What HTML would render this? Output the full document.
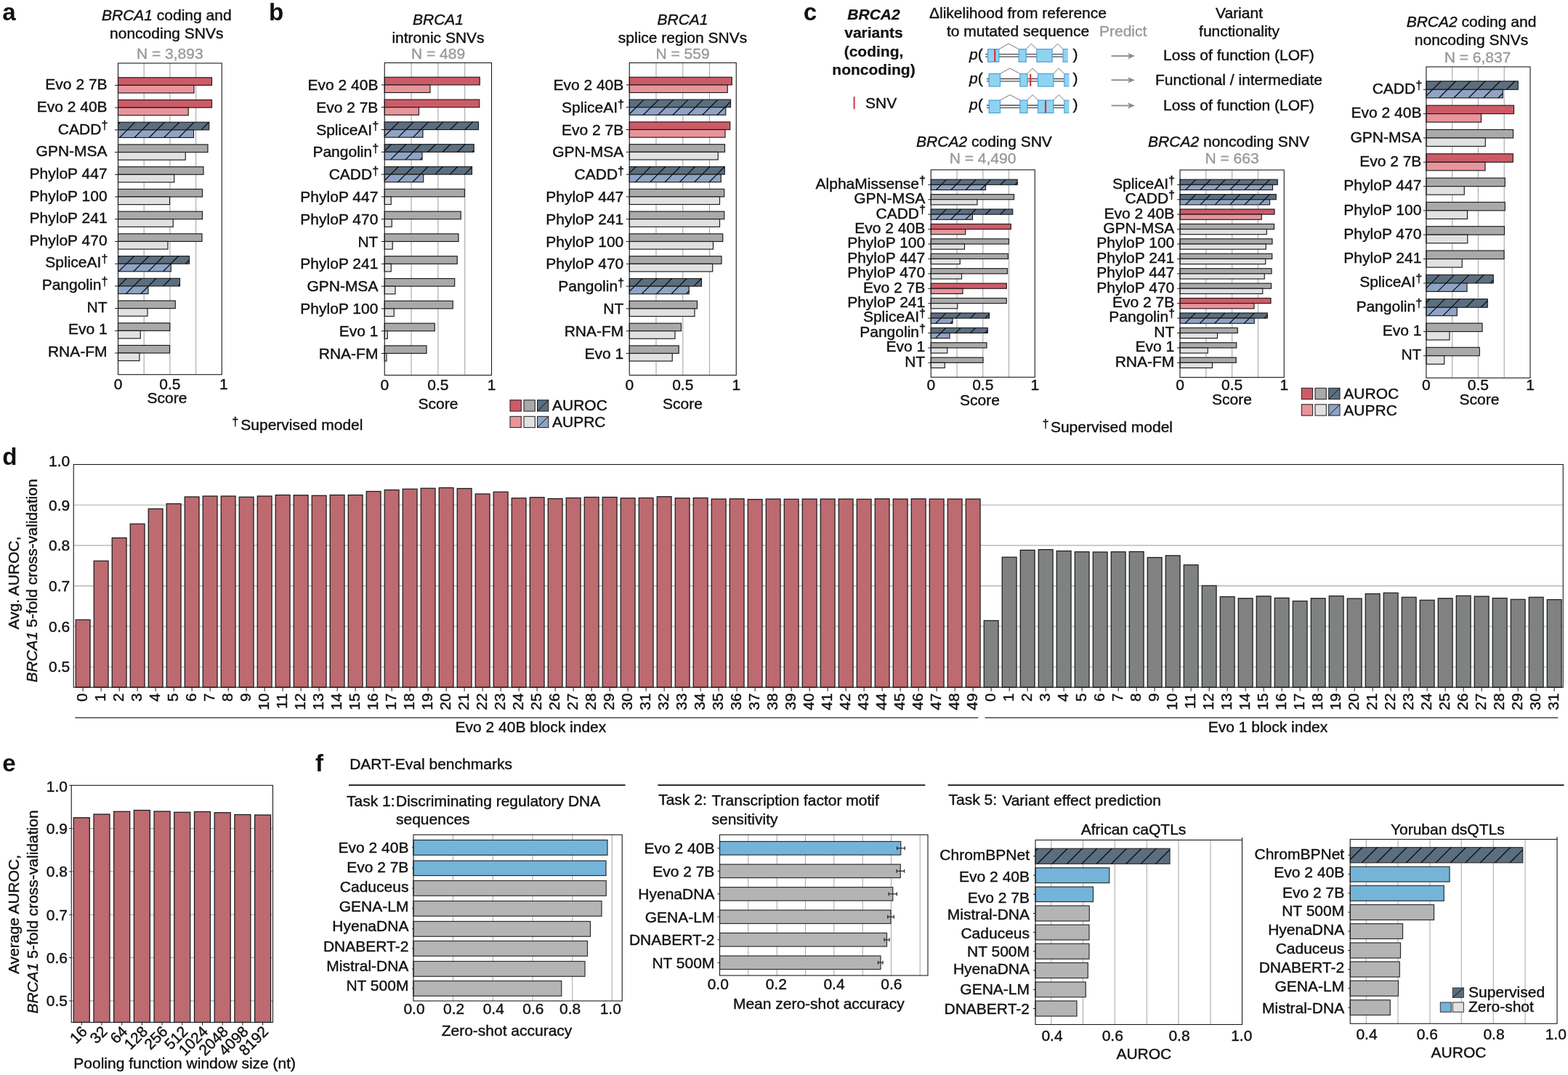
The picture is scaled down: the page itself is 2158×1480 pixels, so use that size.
<!DOCTYPE html>
<html lang="en"><head><meta charset="utf-8"><title>Figure</title>
<style>html,body{margin:0;padding:0;background:#fff}body{width:2158px;height:1480px;overflow:hidden}svg{display:block;font-family:"Liberation Sans",Arial,Helvetica,sans-serif;font-size:21px;fill:#111111}</style>
</head><body>
<svg width="2158" height="1480" viewBox="0 0 2158 1480">
<rect width="2158" height="1480" fill="#ffffff"/>
<g id="panel-a">
<text x="3.3" y="28.3" font-size="33.2" stroke="#111111" stroke-width="0" font-weight="bold">a</text>
<text x="229.3" y="27.5" text-anchor="middle" stroke="#111111" stroke-width="0.4"><tspan font-style="italic">BRCA1</tspan> coding and</text>
<text x="229.3" y="52.5" text-anchor="middle" stroke="#111111" stroke-width="0.4">noncoding SNVs</text>
<text x="233.8" y="81.3" text-anchor="middle" fill="#9a9a9a" stroke="#9a9a9a" stroke-width="0.4">N = 3,893</text>
<line x1="198.2" y1="87" x2="198.2" y2="515.7" stroke="#adadad" stroke-width="1.2"/>
<line x1="233.9" y1="87" x2="233.9" y2="515.7" stroke="#adadad" stroke-width="1.2"/>
<line x1="269.6" y1="87" x2="269.6" y2="515.7" stroke="#adadad" stroke-width="1.2"/>
<rect x="162.5" y="106.8" width="129" height="10.6" fill="#cd5b67" stroke="#1a1a1a" stroke-width="1.15"/>
<rect x="162.5" y="117.4" width="104.5" height="10.6" fill="#e8949b" stroke="#1a1a1a" stroke-width="1.15"/>
<line x1="158" y1="117.4" x2="162.5" y2="117.4" stroke="#1a1a1a" stroke-width="1"/>
<text x="147.6" y="123.3" text-anchor="end" stroke="#111111" stroke-width="0.4">Evo 2 7B</text>
<rect x="162.5" y="137.52" width="129" height="10.6" fill="#cd5b67" stroke="#1a1a1a" stroke-width="1.15"/>
<rect x="162.5" y="148.12" width="96.75" height="10.6" fill="#e8949b" stroke="#1a1a1a" stroke-width="1.15"/>
<line x1="158" y1="148.12" x2="162.5" y2="148.12" stroke="#1a1a1a" stroke-width="1"/>
<text x="147.6" y="153.94" text-anchor="end" stroke="#111111" stroke-width="0.4">Evo 2 40B</text>
<rect x="162.5" y="168.24" width="125.25" height="10.6" fill="#5b6e80" stroke="#1a1a1a" stroke-width="1.15"/>
<rect x="162.5" y="178.84" width="104" height="10.6" fill="#8fa3c4" stroke="#1a1a1a" stroke-width="1.15"/>
<path d="M162.5 171.15L165.41 168.24M175.16 178.84L185.76 168.24M195.51 178.84L206.11 168.24M215.86 178.84L226.46 168.24M236.21 178.84L246.81 168.24M256.56 178.84L267.16 168.24M276.91 178.84L287.51 168.24" stroke="#0c0c0c" stroke-width="1.25" fill="none"/>
<path d="M164.56 189.44L175.16 178.84M184.91 189.44L195.51 178.84M205.26 189.44L215.86 178.84M225.61 189.44L236.21 178.84M245.96 189.44L256.56 178.84" stroke="#0c0c0c" stroke-width="1.25" fill="none"/>
<line x1="158" y1="178.84" x2="162.5" y2="178.84" stroke="#1a1a1a" stroke-width="1"/>
<text x="148.4" y="184.58" text-anchor="end" stroke="#111111" stroke-width="0.4">CADD<tspan dy="-6.2" font-size="16.2">†</tspan></text>
<rect x="162.5" y="198.96" width="123.5" height="10.6" fill="#a9a9a9" stroke="#1a1a1a" stroke-width="1.15"/>
<rect x="162.5" y="209.56" width="92.75" height="10.6" fill="#e1e1e1" stroke="#1a1a1a" stroke-width="1.15"/>
<line x1="158" y1="209.56" x2="162.5" y2="209.56" stroke="#1a1a1a" stroke-width="1"/>
<text x="147.6" y="215.22" text-anchor="end" stroke="#111111" stroke-width="0.4">GPN-MSA</text>
<rect x="162.5" y="229.68" width="117.5" height="10.6" fill="#a9a9a9" stroke="#1a1a1a" stroke-width="1.15"/>
<rect x="162.5" y="240.28" width="77.25" height="10.6" fill="#e1e1e1" stroke="#1a1a1a" stroke-width="1.15"/>
<line x1="158" y1="240.28" x2="162.5" y2="240.28" stroke="#1a1a1a" stroke-width="1"/>
<text x="147.6" y="245.86" text-anchor="end" stroke="#111111" stroke-width="0.4">PhyloP 447</text>
<rect x="162.5" y="260.4" width="116" height="10.6" fill="#a9a9a9" stroke="#1a1a1a" stroke-width="1.15"/>
<rect x="162.5" y="271" width="71" height="10.6" fill="#e1e1e1" stroke="#1a1a1a" stroke-width="1.15"/>
<line x1="158" y1="271" x2="162.5" y2="271" stroke="#1a1a1a" stroke-width="1"/>
<text x="147.6" y="276.5" text-anchor="end" stroke="#111111" stroke-width="0.4">PhyloP 100</text>
<rect x="162.5" y="291.12" width="116" height="10.6" fill="#a9a9a9" stroke="#1a1a1a" stroke-width="1.15"/>
<rect x="162.5" y="301.72" width="75.75" height="10.6" fill="#e1e1e1" stroke="#1a1a1a" stroke-width="1.15"/>
<line x1="158" y1="301.72" x2="162.5" y2="301.72" stroke="#1a1a1a" stroke-width="1"/>
<text x="147.6" y="307.14" text-anchor="end" stroke="#111111" stroke-width="0.4">PhyloP 241</text>
<rect x="162.5" y="321.84" width="115.5" height="10.6" fill="#a9a9a9" stroke="#1a1a1a" stroke-width="1.15"/>
<rect x="162.5" y="332.44" width="68.5" height="10.6" fill="#e1e1e1" stroke="#1a1a1a" stroke-width="1.15"/>
<line x1="158" y1="332.44" x2="162.5" y2="332.44" stroke="#1a1a1a" stroke-width="1"/>
<text x="147.6" y="337.78" text-anchor="end" stroke="#111111" stroke-width="0.4">PhyloP 470</text>
<rect x="162.5" y="352.56" width="98" height="10.6" fill="#5b6e80" stroke="#1a1a1a" stroke-width="1.15"/>
<rect x="162.5" y="363.16" width="72.75" height="10.6" fill="#8fa3c4" stroke="#1a1a1a" stroke-width="1.15"/>
<path d="M162.5 354.3L164.24 352.56M173.99 363.16L184.59 352.56M194.34 363.16L204.94 352.56M214.69 363.16L225.29 352.56M235.04 363.16L245.64 352.56M255.39 363.16L260.5 358.05" stroke="#0c0c0c" stroke-width="1.25" fill="none"/>
<path d="M163.39 373.76L173.99 363.16M183.74 373.76L194.34 363.16M204.09 373.76L214.69 363.16M224.44 373.76L235.04 363.16" stroke="#0c0c0c" stroke-width="1.25" fill="none"/>
<line x1="158" y1="363.16" x2="162.5" y2="363.16" stroke="#1a1a1a" stroke-width="1"/>
<text x="148.4" y="368.42" text-anchor="end" stroke="#111111" stroke-width="0.4">SpliceAI<tspan dy="-6.2" font-size="16.2">†</tspan></text>
<rect x="162.5" y="383.28" width="85" height="10.6" fill="#5b6e80" stroke="#1a1a1a" stroke-width="1.15"/>
<rect x="162.5" y="393.88" width="41.5" height="10.6" fill="#8fa3c4" stroke="#1a1a1a" stroke-width="1.15"/>
<path d="M163.62 393.88L174.22 383.28M183.97 393.88L194.57 383.28M204.32 393.88L214.92 383.28M224.67 393.88L235.27 383.28M245.02 393.88L247.5 391.4" stroke="#0c0c0c" stroke-width="1.25" fill="none"/>
<path d="M162.5 395L163.62 393.88M173.37 404.48L183.97 393.88M193.72 404.48L204 394.2" stroke="#0c0c0c" stroke-width="1.25" fill="none"/>
<line x1="158" y1="393.88" x2="162.5" y2="393.88" stroke="#1a1a1a" stroke-width="1"/>
<text x="148.4" y="399.06" text-anchor="end" stroke="#111111" stroke-width="0.4">Pangolin<tspan dy="-6.2" font-size="16.2">†</tspan></text>
<rect x="162.5" y="414" width="78.75" height="10.6" fill="#a9a9a9" stroke="#1a1a1a" stroke-width="1.15"/>
<rect x="162.5" y="424.6" width="40.5" height="10.6" fill="#e1e1e1" stroke="#1a1a1a" stroke-width="1.15"/>
<line x1="158" y1="424.6" x2="162.5" y2="424.6" stroke="#1a1a1a" stroke-width="1"/>
<text x="147.6" y="429.7" text-anchor="end" stroke="#111111" stroke-width="0.4">NT</text>
<rect x="162.5" y="444.72" width="71.25" height="10.6" fill="#a9a9a9" stroke="#1a1a1a" stroke-width="1.15"/>
<rect x="162.5" y="455.32" width="30.75" height="10.6" fill="#e1e1e1" stroke="#1a1a1a" stroke-width="1.15"/>
<line x1="158" y1="455.32" x2="162.5" y2="455.32" stroke="#1a1a1a" stroke-width="1"/>
<text x="147.6" y="460.34" text-anchor="end" stroke="#111111" stroke-width="0.4">Evo 1</text>
<rect x="162.5" y="475.44" width="71" height="10.6" fill="#a9a9a9" stroke="#1a1a1a" stroke-width="1.15"/>
<rect x="162.5" y="486.04" width="29.5" height="10.6" fill="#e1e1e1" stroke="#1a1a1a" stroke-width="1.15"/>
<line x1="158" y1="486.04" x2="162.5" y2="486.04" stroke="#1a1a1a" stroke-width="1"/>
<text x="147.6" y="490.98" text-anchor="end" stroke="#111111" stroke-width="0.4">RNA-FM</text>
<rect x="162.5" y="87" width="142.8" height="428.7" fill="none" stroke="#1a1a1a" stroke-width="1.1"/>
<text x="162.5" y="535.5" text-anchor="middle" stroke="#111111" stroke-width="0.4">0</text>
<text x="233.9" y="535.5" text-anchor="middle" stroke="#111111" stroke-width="0.4">0.5</text>
<text x="307.9" y="535.5" text-anchor="middle" stroke="#111111" stroke-width="0.4">1</text>
<text x="230" y="554.5" text-anchor="middle" stroke="#111111" stroke-width="0.4">Score</text>
<text x="319.3" y="591.7" stroke="#111111" stroke-width="0.4"><tspan dy="-6.2" font-size="16.2">†</tspan><tspan dy="6.2" dx="3">Supervised model</tspan></text>
</g>
<g id="panel-b">
<text x="370" y="28.3" font-size="33.2" stroke="#111111" stroke-width="0" font-weight="bold">b</text>
<text x="603" y="33.8" text-anchor="middle" stroke="#111111" stroke-width="0.4" font-style="italic">BRCA1</text>
<text x="603" y="58.6" text-anchor="middle" stroke="#111111" stroke-width="0.4">intronic SNVs</text>
<text x="603" y="81.3" text-anchor="middle" fill="#9a9a9a" stroke="#9a9a9a" stroke-width="0.4">N = 489</text>
<line x1="566.06" y1="86.5" x2="566.06" y2="516.5" stroke="#adadad" stroke-width="1.2"/>
<line x1="602.88" y1="86.5" x2="602.88" y2="516.5" stroke="#adadad" stroke-width="1.2"/>
<line x1="639.69" y1="86.5" x2="639.69" y2="516.5" stroke="#adadad" stroke-width="1.2"/>
<rect x="529.25" y="106.3" width="131" height="10.6" fill="#cd5b67" stroke="#1a1a1a" stroke-width="1.15"/>
<rect x="529.25" y="116.9" width="62.75" height="10.6" fill="#e8949b" stroke="#1a1a1a" stroke-width="1.15"/>
<line x1="524.75" y1="116.9" x2="529.25" y2="116.9" stroke="#1a1a1a" stroke-width="1"/>
<text x="520.4" y="123.9" text-anchor="end" stroke="#111111" stroke-width="0.4">Evo 2 40B</text>
<rect x="529.25" y="137.1" width="130.5" height="10.6" fill="#cd5b67" stroke="#1a1a1a" stroke-width="1.15"/>
<rect x="529.25" y="147.7" width="47.25" height="10.6" fill="#e8949b" stroke="#1a1a1a" stroke-width="1.15"/>
<line x1="524.75" y1="147.7" x2="529.25" y2="147.7" stroke="#1a1a1a" stroke-width="1"/>
<text x="520.4" y="154.7" text-anchor="end" stroke="#111111" stroke-width="0.4">Evo 2 7B</text>
<rect x="529.25" y="167.9" width="129.25" height="10.6" fill="#5b6e80" stroke="#1a1a1a" stroke-width="1.15"/>
<rect x="529.25" y="178.5" width="52.75" height="10.6" fill="#8fa3c4" stroke="#1a1a1a" stroke-width="1.15"/>
<path d="M538.25 178.5L548.85 167.9M558.6 178.5L569.2 167.9M578.95 178.5L589.55 167.9M599.3 178.5L609.9 167.9M619.65 178.5L630.25 167.9M640 178.5L650.6 167.9" stroke="#0c0c0c" stroke-width="1.25" fill="none"/>
<path d="M529.25 187.5L538.25 178.5M548 189.1L558.6 178.5M568.35 189.1L578.95 178.5" stroke="#0c0c0c" stroke-width="1.25" fill="none"/>
<line x1="524.75" y1="178.5" x2="529.25" y2="178.5" stroke="#1a1a1a" stroke-width="1"/>
<text x="521.2" y="185.5" text-anchor="end" stroke="#111111" stroke-width="0.4">SpliceAI<tspan dy="-6.2" font-size="16.2">†</tspan></text>
<rect x="529.25" y="198.7" width="123" height="10.6" fill="#5b6e80" stroke="#1a1a1a" stroke-width="1.15"/>
<rect x="529.25" y="209.3" width="51.75" height="10.6" fill="#8fa3c4" stroke="#1a1a1a" stroke-width="1.15"/>
<path d="M529.25 207.85L538.4 198.7M548.15 209.3L558.75 198.7M568.5 209.3L579.1 198.7M588.85 209.3L599.45 198.7M609.2 209.3L619.8 198.7M629.55 209.3L640.15 198.7M649.9 209.3L652.25 206.95" stroke="#0c0c0c" stroke-width="1.25" fill="none"/>
<path d="M537.55 219.9L548.15 209.3M557.9 219.9L568.5 209.3M578.25 219.9L581 217.15" stroke="#0c0c0c" stroke-width="1.25" fill="none"/>
<line x1="524.75" y1="209.3" x2="529.25" y2="209.3" stroke="#1a1a1a" stroke-width="1"/>
<text x="521.2" y="216.3" text-anchor="end" stroke="#111111" stroke-width="0.4">Pangolin<tspan dy="-6.2" font-size="16.2">†</tspan></text>
<rect x="529.25" y="229.5" width="120.25" height="10.6" fill="#5b6e80" stroke="#1a1a1a" stroke-width="1.15"/>
<rect x="529.25" y="240.1" width="53.5" height="10.6" fill="#8fa3c4" stroke="#1a1a1a" stroke-width="1.15"/>
<path d="M537.7 240.1L548.3 229.5M558.05 240.1L568.65 229.5M578.4 240.1L589 229.5M598.75 240.1L609.35 229.5M619.1 240.1L629.7 229.5M639.45 240.1L649.5 230.05" stroke="#0c0c0c" stroke-width="1.25" fill="none"/>
<path d="M529.25 248.55L537.7 240.1M547.45 250.7L558.05 240.1M567.8 250.7L578.4 240.1" stroke="#0c0c0c" stroke-width="1.25" fill="none"/>
<line x1="524.75" y1="240.1" x2="529.25" y2="240.1" stroke="#1a1a1a" stroke-width="1"/>
<text x="521.2" y="247.1" text-anchor="end" stroke="#111111" stroke-width="0.4">CADD<tspan dy="-6.2" font-size="16.2">†</tspan></text>
<rect x="529.25" y="260.3" width="110.25" height="10.6" fill="#a9a9a9" stroke="#1a1a1a" stroke-width="1.15"/>
<rect x="529.25" y="270.9" width="9" height="10.6" fill="#e1e1e1" stroke="#1a1a1a" stroke-width="1.15"/>
<line x1="524.75" y1="270.9" x2="529.25" y2="270.9" stroke="#1a1a1a" stroke-width="1"/>
<text x="520.4" y="277.9" text-anchor="end" stroke="#111111" stroke-width="0.4">PhyloP 447</text>
<rect x="529.25" y="291.1" width="105" height="10.6" fill="#a9a9a9" stroke="#1a1a1a" stroke-width="1.15"/>
<rect x="529.25" y="301.7" width="10" height="10.6" fill="#e1e1e1" stroke="#1a1a1a" stroke-width="1.15"/>
<line x1="524.75" y1="301.7" x2="529.25" y2="301.7" stroke="#1a1a1a" stroke-width="1"/>
<text x="520.4" y="308.7" text-anchor="end" stroke="#111111" stroke-width="0.4">PhyloP 470</text>
<rect x="529.25" y="321.9" width="101.75" height="10.6" fill="#a9a9a9" stroke="#1a1a1a" stroke-width="1.15"/>
<rect x="529.25" y="332.5" width="11" height="10.6" fill="#e1e1e1" stroke="#1a1a1a" stroke-width="1.15"/>
<line x1="524.75" y1="332.5" x2="529.25" y2="332.5" stroke="#1a1a1a" stroke-width="1"/>
<text x="520.4" y="339.5" text-anchor="end" stroke="#111111" stroke-width="0.4">NT</text>
<rect x="529.25" y="352.7" width="100" height="10.6" fill="#a9a9a9" stroke="#1a1a1a" stroke-width="1.15"/>
<rect x="529.25" y="363.3" width="9" height="10.6" fill="#e1e1e1" stroke="#1a1a1a" stroke-width="1.15"/>
<line x1="524.75" y1="363.3" x2="529.25" y2="363.3" stroke="#1a1a1a" stroke-width="1"/>
<text x="520.4" y="370.3" text-anchor="end" stroke="#111111" stroke-width="0.4">PhyloP 241</text>
<rect x="529.25" y="383.5" width="96.5" height="10.6" fill="#a9a9a9" stroke="#1a1a1a" stroke-width="1.15"/>
<rect x="529.25" y="394.1" width="14.75" height="10.6" fill="#e1e1e1" stroke="#1a1a1a" stroke-width="1.15"/>
<line x1="524.75" y1="394.1" x2="529.25" y2="394.1" stroke="#1a1a1a" stroke-width="1"/>
<text x="520.4" y="401.1" text-anchor="end" stroke="#111111" stroke-width="0.4">GPN-MSA</text>
<rect x="529.25" y="414.3" width="94" height="10.6" fill="#a9a9a9" stroke="#1a1a1a" stroke-width="1.15"/>
<rect x="529.25" y="424.9" width="13" height="10.6" fill="#e1e1e1" stroke="#1a1a1a" stroke-width="1.15"/>
<line x1="524.75" y1="424.9" x2="529.25" y2="424.9" stroke="#1a1a1a" stroke-width="1"/>
<text x="520.4" y="431.9" text-anchor="end" stroke="#111111" stroke-width="0.4">PhyloP 100</text>
<rect x="529.25" y="445.1" width="69" height="10.6" fill="#a9a9a9" stroke="#1a1a1a" stroke-width="1.15"/>
<rect x="529.25" y="455.7" width="4" height="10.6" fill="#e1e1e1" stroke="#1a1a1a" stroke-width="1.15"/>
<line x1="524.75" y1="455.7" x2="529.25" y2="455.7" stroke="#1a1a1a" stroke-width="1"/>
<text x="520.4" y="462.7" text-anchor="end" stroke="#111111" stroke-width="0.4">Evo 1</text>
<rect x="529.25" y="475.9" width="57.75" height="10.6" fill="#a9a9a9" stroke="#1a1a1a" stroke-width="1.15"/>
<rect x="529.25" y="486.5" width="2.75" height="10.6" fill="#e1e1e1" stroke="#1a1a1a" stroke-width="1.15"/>
<line x1="524.75" y1="486.5" x2="529.25" y2="486.5" stroke="#1a1a1a" stroke-width="1"/>
<text x="520.4" y="493.5" text-anchor="end" stroke="#111111" stroke-width="0.4">RNA-FM</text>
<rect x="529.25" y="86.5" width="147.25" height="430" fill="none" stroke="#1a1a1a" stroke-width="1.1"/>
<text x="529.25" y="537" text-anchor="middle" stroke="#111111" stroke-width="0.4">0</text>
<text x="602.88" y="537" text-anchor="middle" stroke="#111111" stroke-width="0.4">0.5</text>
<text x="676.5" y="537" text-anchor="middle" stroke="#111111" stroke-width="0.4">1</text>
<text x="603" y="562.7" text-anchor="middle" stroke="#111111" stroke-width="0.4">Score</text>
<text x="939.5" y="33.8" text-anchor="middle" stroke="#111111" stroke-width="0.4" font-style="italic">BRCA1</text>
<text x="939.5" y="58.6" text-anchor="middle" stroke="#111111" stroke-width="0.4">splice region SNVs</text>
<text x="939.5" y="81.3" text-anchor="middle" fill="#9a9a9a" stroke="#9a9a9a" stroke-width="0.4">N = 559</text>
<line x1="903" y1="86.5" x2="903" y2="516.5" stroke="#adadad" stroke-width="1.2"/>
<line x1="939.75" y1="86.5" x2="939.75" y2="516.5" stroke="#adadad" stroke-width="1.2"/>
<line x1="976.5" y1="86.5" x2="976.5" y2="516.5" stroke="#adadad" stroke-width="1.2"/>
<rect x="866.25" y="106.3" width="141" height="10.6" fill="#cd5b67" stroke="#1a1a1a" stroke-width="1.15"/>
<rect x="866.25" y="116.9" width="135" height="10.6" fill="#e8949b" stroke="#1a1a1a" stroke-width="1.15"/>
<line x1="861.75" y1="116.9" x2="866.25" y2="116.9" stroke="#1a1a1a" stroke-width="1"/>
<text x="858.3" y="123.9" text-anchor="end" stroke="#111111" stroke-width="0.4">Evo 2 40B</text>
<rect x="866.25" y="137.1" width="139.25" height="10.6" fill="#5b6e80" stroke="#1a1a1a" stroke-width="1.15"/>
<rect x="866.25" y="147.7" width="132.5" height="10.6" fill="#8fa3c4" stroke="#1a1a1a" stroke-width="1.15"/>
<path d="M875.55 147.7L886.15 137.1M895.9 147.7L906.5 137.1M916.25 147.7L926.85 137.1M936.6 147.7L947.2 137.1M956.95 147.7L967.55 137.1M977.3 147.7L987.9 137.1M997.65 147.7L1005.5 139.85" stroke="#0c0c0c" stroke-width="1.25" fill="none"/>
<path d="M866.25 157L875.55 147.7M885.3 158.3L895.9 147.7M905.65 158.3L916.25 147.7M926 158.3L936.6 147.7M946.35 158.3L956.95 147.7M966.7 158.3L977.3 147.7M987.05 158.3L997.65 147.7" stroke="#0c0c0c" stroke-width="1.25" fill="none"/>
<line x1="861.75" y1="147.7" x2="866.25" y2="147.7" stroke="#1a1a1a" stroke-width="1"/>
<text x="859.1" y="154.7" text-anchor="end" stroke="#111111" stroke-width="0.4">SpliceAI<tspan dy="-6.2" font-size="16.2">†</tspan></text>
<rect x="866.25" y="167.9" width="138.5" height="10.6" fill="#cd5b67" stroke="#1a1a1a" stroke-width="1.15"/>
<rect x="866.25" y="178.5" width="131.75" height="10.6" fill="#e8949b" stroke="#1a1a1a" stroke-width="1.15"/>
<line x1="861.75" y1="178.5" x2="866.25" y2="178.5" stroke="#1a1a1a" stroke-width="1"/>
<text x="858.3" y="185.5" text-anchor="end" stroke="#111111" stroke-width="0.4">Evo 2 7B</text>
<rect x="866.25" y="198.7" width="131.25" height="10.6" fill="#a9a9a9" stroke="#1a1a1a" stroke-width="1.15"/>
<rect x="866.25" y="209.3" width="122" height="10.6" fill="#e1e1e1" stroke="#1a1a1a" stroke-width="1.15"/>
<line x1="861.75" y1="209.3" x2="866.25" y2="209.3" stroke="#1a1a1a" stroke-width="1"/>
<text x="858.3" y="216.3" text-anchor="end" stroke="#111111" stroke-width="0.4">GPN-MSA</text>
<rect x="866.25" y="229.5" width="131" height="10.6" fill="#5b6e80" stroke="#1a1a1a" stroke-width="1.15"/>
<rect x="866.25" y="240.1" width="126" height="10.6" fill="#8fa3c4" stroke="#1a1a1a" stroke-width="1.15"/>
<path d="M866.25 238.4L875.15 229.5M884.9 240.1L895.5 229.5M905.25 240.1L915.85 229.5M925.6 240.1L936.2 229.5M945.95 240.1L956.55 229.5M966.3 240.1L976.9 229.5M986.65 240.1L997.25 229.5" stroke="#0c0c0c" stroke-width="1.25" fill="none"/>
<path d="M874.3 250.7L884.9 240.1M894.65 250.7L905.25 240.1M915 250.7L925.6 240.1M935.35 250.7L945.95 240.1M955.7 250.7L966.3 240.1M976.05 250.7L986.65 240.1" stroke="#0c0c0c" stroke-width="1.25" fill="none"/>
<line x1="861.75" y1="240.1" x2="866.25" y2="240.1" stroke="#1a1a1a" stroke-width="1"/>
<text x="859.1" y="247.1" text-anchor="end" stroke="#111111" stroke-width="0.4">CADD<tspan dy="-6.2" font-size="16.2">†</tspan></text>
<rect x="866.25" y="260.3" width="130.5" height="10.6" fill="#a9a9a9" stroke="#1a1a1a" stroke-width="1.15"/>
<rect x="866.25" y="270.9" width="124.25" height="10.6" fill="#e1e1e1" stroke="#1a1a1a" stroke-width="1.15"/>
<line x1="861.75" y1="270.9" x2="866.25" y2="270.9" stroke="#1a1a1a" stroke-width="1"/>
<text x="858.3" y="277.9" text-anchor="end" stroke="#111111" stroke-width="0.4">PhyloP 447</text>
<rect x="866.25" y="291.1" width="130.5" height="10.6" fill="#a9a9a9" stroke="#1a1a1a" stroke-width="1.15"/>
<rect x="866.25" y="301.7" width="124.25" height="10.6" fill="#e1e1e1" stroke="#1a1a1a" stroke-width="1.15"/>
<line x1="861.75" y1="301.7" x2="866.25" y2="301.7" stroke="#1a1a1a" stroke-width="1"/>
<text x="858.3" y="308.7" text-anchor="end" stroke="#111111" stroke-width="0.4">PhyloP 241</text>
<rect x="866.25" y="321.9" width="128.5" height="10.6" fill="#a9a9a9" stroke="#1a1a1a" stroke-width="1.15"/>
<rect x="866.25" y="332.5" width="115.25" height="10.6" fill="#e1e1e1" stroke="#1a1a1a" stroke-width="1.15"/>
<line x1="861.75" y1="332.5" x2="866.25" y2="332.5" stroke="#1a1a1a" stroke-width="1"/>
<text x="858.3" y="339.5" text-anchor="end" stroke="#111111" stroke-width="0.4">PhyloP 100</text>
<rect x="866.25" y="352.7" width="126.75" height="10.6" fill="#a9a9a9" stroke="#1a1a1a" stroke-width="1.15"/>
<rect x="866.25" y="363.3" width="114.5" height="10.6" fill="#e1e1e1" stroke="#1a1a1a" stroke-width="1.15"/>
<line x1="861.75" y1="363.3" x2="866.25" y2="363.3" stroke="#1a1a1a" stroke-width="1"/>
<text x="858.3" y="370.3" text-anchor="end" stroke="#111111" stroke-width="0.4">PhyloP 470</text>
<rect x="866.25" y="383.5" width="99.25" height="10.6" fill="#5b6e80" stroke="#1a1a1a" stroke-width="1.15"/>
<rect x="866.25" y="394.1" width="82" height="10.6" fill="#8fa3c4" stroke="#1a1a1a" stroke-width="1.15"/>
<path d="M873.35 394.1L883.95 383.5M893.7 394.1L904.3 383.5M914.05 394.1L924.65 383.5M934.4 394.1L945 383.5M954.75 394.1L965.35 383.5" stroke="#0c0c0c" stroke-width="1.25" fill="none"/>
<path d="M866.25 401.2L873.35 394.1M883.1 404.7L893.7 394.1M903.45 404.7L914.05 394.1M923.8 404.7L934.4 394.1M944.15 404.7L948.25 400.6" stroke="#0c0c0c" stroke-width="1.25" fill="none"/>
<line x1="861.75" y1="394.1" x2="866.25" y2="394.1" stroke="#1a1a1a" stroke-width="1"/>
<text x="859.1" y="401.1" text-anchor="end" stroke="#111111" stroke-width="0.4">Pangolin<tspan dy="-6.2" font-size="16.2">†</tspan></text>
<rect x="866.25" y="414.3" width="93.25" height="10.6" fill="#a9a9a9" stroke="#1a1a1a" stroke-width="1.15"/>
<rect x="866.25" y="424.9" width="89.75" height="10.6" fill="#e1e1e1" stroke="#1a1a1a" stroke-width="1.15"/>
<line x1="861.75" y1="424.9" x2="866.25" y2="424.9" stroke="#1a1a1a" stroke-width="1"/>
<text x="858.3" y="431.9" text-anchor="end" stroke="#111111" stroke-width="0.4">NT</text>
<rect x="866.25" y="445.1" width="71.25" height="10.6" fill="#a9a9a9" stroke="#1a1a1a" stroke-width="1.15"/>
<rect x="866.25" y="455.7" width="62.75" height="10.6" fill="#e1e1e1" stroke="#1a1a1a" stroke-width="1.15"/>
<line x1="861.75" y1="455.7" x2="866.25" y2="455.7" stroke="#1a1a1a" stroke-width="1"/>
<text x="858.3" y="462.7" text-anchor="end" stroke="#111111" stroke-width="0.4">RNA-FM</text>
<rect x="866.25" y="475.9" width="68" height="10.6" fill="#a9a9a9" stroke="#1a1a1a" stroke-width="1.15"/>
<rect x="866.25" y="486.5" width="59" height="10.6" fill="#e1e1e1" stroke="#1a1a1a" stroke-width="1.15"/>
<line x1="861.75" y1="486.5" x2="866.25" y2="486.5" stroke="#1a1a1a" stroke-width="1"/>
<text x="858.3" y="493.5" text-anchor="end" stroke="#111111" stroke-width="0.4">Evo 1</text>
<rect x="866.25" y="86.5" width="147" height="430" fill="none" stroke="#1a1a1a" stroke-width="1.1"/>
<text x="866.25" y="537" text-anchor="middle" stroke="#111111" stroke-width="0.4">0</text>
<text x="939.75" y="537" text-anchor="middle" stroke="#111111" stroke-width="0.4">0.5</text>
<text x="1013.25" y="537" text-anchor="middle" stroke="#111111" stroke-width="0.4">1</text>
<text x="939.5" y="562.7" text-anchor="middle" stroke="#111111" stroke-width="0.4">Score</text>
<rect x="702" y="550.8" width="15.3" height="15.3" fill="#cd5b67" stroke="#1a1a1a" stroke-width="1"/>
<rect x="721" y="550.8" width="15.3" height="15.3" fill="#a9a9a9" stroke="#1a1a1a" stroke-width="1"/>
<rect x="739.5" y="550.8" width="15.3" height="15.3" fill="#5b6e80" stroke="#1a1a1a" stroke-width="1"/>
<line x1="739.5" y1="566.1" x2="754.8" y2="550.8" stroke="#111" stroke-width="1"/>
<text x="760" y="565.3" stroke="#111111" stroke-width="0.4">AUROC</text>
<rect x="702" y="573.3" width="15.3" height="15.3" fill="#e8949b" stroke="#1a1a1a" stroke-width="1"/>
<rect x="721" y="573.3" width="15.3" height="15.3" fill="#e1e1e1" stroke="#1a1a1a" stroke-width="1"/>
<rect x="739.5" y="573.3" width="15.3" height="15.3" fill="#8fa3c4" stroke="#1a1a1a" stroke-width="1"/>
<line x1="739.5" y1="588.6" x2="754.8" y2="573.3" stroke="#111" stroke-width="1"/>
<text x="760" y="588.3" stroke="#111111" stroke-width="0.4">AUPRC</text>
</g>
<g id="panel-c">
<text x="1105.8" y="28.3" font-size="33.2" stroke="#111111" stroke-width="0" font-weight="bold">c</text>
<text x="1202.5" y="27" text-anchor="middle" stroke="#111111" stroke-width="0.24" font-weight="bold" font-style="italic">BRCA2</text>
<text x="1202.5" y="52" text-anchor="middle" stroke="#111111" stroke-width="0.24" font-weight="bold">variants</text>
<text x="1202.5" y="77.5" text-anchor="middle" stroke="#111111" stroke-width="0.24" font-weight="bold">(coding,</text>
<text x="1202.5" y="102.5" text-anchor="middle" stroke="#111111" stroke-width="0.24" font-weight="bold">noncoding)</text>
<line x1="1175.6" y1="133" x2="1175.6" y2="150.2" stroke="#d8343b" stroke-width="2"/>
<text x="1191" y="149.3" stroke="#111111" stroke-width="0.4">SNV</text>
<text x="1279" y="25" stroke="#111111" stroke-width="0.4">Δlikelihood from reference</text>
<text x="1303" y="50" stroke="#111111" stroke-width="0.4">to mutated sequence</text>
<text x="1513" y="50" fill="#9a9a9a" stroke="#9a9a9a" stroke-width="0.4">Predict</text>
<text x="1705.5" y="25" text-anchor="middle" stroke="#111111" stroke-width="0.4">Variant</text>
<text x="1705.5" y="50" text-anchor="middle" stroke="#111111" stroke-width="0.4">functionality</text>
<text x="1705" y="83.2" text-anchor="middle" stroke="#111111" stroke-width="0.4">Loss of function (LOF)</text>
<text x="1705" y="117" text-anchor="middle" stroke="#111111" stroke-width="0.4">Functional / intermediate</text>
<text x="1705" y="152" text-anchor="middle" stroke="#111111" stroke-width="0.4">Loss of function (LOF)</text>
<line x1="1356.2" y1="74.7" x2="1463" y2="74.7" stroke="#484848" stroke-width="1.3"/>
<line x1="1356.2" y1="78.1" x2="1463" y2="78.1" stroke="#484848" stroke-width="1.3"/>
<path d="M1374.8 67.7L1388.1 60.2L1402.2 67.7" fill="none" stroke="#666" stroke-width="0.9"/>
<path d="M1412.2 67.7L1419.4 60.2L1426.9 67.7" fill="none" stroke="#666" stroke-width="0.9"/>
<path d="M1448.1 67.7L1455.5 60.2L1463 67.7" fill="none" stroke="#666" stroke-width="0.9"/>
<rect x="1359.5" y="67.7" width="15.3" height="17.5" fill="#8ed4f0" stroke="#4f9ed8" stroke-width="1.2"/>
<rect x="1402.2" y="67.7" width="10" height="17.5" fill="#8ed4f0" stroke="#4f9ed8" stroke-width="1.2"/>
<rect x="1426.9" y="67.7" width="21.2" height="17.5" fill="#8ed4f0" stroke="#4f9ed8" stroke-width="1.2"/>
<rect x="1463" y="67.7" width="6.8" height="17.5" fill="#8ed4f0"/>
<path d="M1469.8 67.7L1463 67.7L1463 85.2L1469.8 85.2" fill="none" stroke="#58a6dc" stroke-width="1.2"/>
<line x1="1369.2" y1="68" x2="1369.2" y2="84.9" stroke="#d8343b" stroke-width="2.2"/>
<text x="1334" y="81.7" stroke="#111111" stroke-width="0.4"><tspan font-style="italic">p</tspan>(</text>
<text x="1476.6" y="81.7" stroke="#111111" stroke-width="0.4">)</text>
<line x1="1529.5" y1="77.1" x2="1556" y2="77.1" stroke="#8e8e8e" stroke-width="1.9"/>
<path d="M1562 77.1L1551.8 72.8L1554.5 77.1L1551.8 81.4Z" fill="#8e8e8e"/>
<line x1="1357.9" y1="108.5" x2="1464.7" y2="108.5" stroke="#484848" stroke-width="1.3"/>
<line x1="1357.9" y1="111.9" x2="1464.7" y2="111.9" stroke="#484848" stroke-width="1.3"/>
<path d="M1376.5 101.5L1389.8 94L1403.9 101.5" fill="none" stroke="#666" stroke-width="0.9"/>
<path d="M1413.9 101.5L1421.1 94L1428.6 101.5" fill="none" stroke="#666" stroke-width="0.9"/>
<path d="M1449.8 101.5L1457.2 94L1464.7 101.5" fill="none" stroke="#666" stroke-width="0.9"/>
<rect x="1361.2" y="101.5" width="15.3" height="17.5" fill="#8ed4f0" stroke="#4f9ed8" stroke-width="1.2"/>
<rect x="1403.9" y="101.5" width="10" height="17.5" fill="#8ed4f0" stroke="#4f9ed8" stroke-width="1.2"/>
<rect x="1428.6" y="101.5" width="21.2" height="17.5" fill="#8ed4f0" stroke="#4f9ed8" stroke-width="1.2"/>
<rect x="1464.7" y="101.5" width="6.8" height="17.5" fill="#8ed4f0"/>
<path d="M1471.5 101.5L1464.7 101.5L1464.7 119L1471.5 119" fill="none" stroke="#58a6dc" stroke-width="1.2"/>
<line x1="1418.2" y1="101.8" x2="1418.2" y2="118.7" stroke="#d8343b" stroke-width="2.2"/>
<text x="1334" y="115" stroke="#111111" stroke-width="0.4"><tspan font-style="italic">p</tspan>(</text>
<text x="1476.6" y="115" stroke="#111111" stroke-width="0.4">)</text>
<line x1="1529.5" y1="110.2" x2="1556" y2="110.2" stroke="#8e8e8e" stroke-width="1.9"/>
<path d="M1562 110.2L1551.8 105.9L1554.5 110.2L1551.8 114.5Z" fill="#8e8e8e"/>
<line x1="1357.9" y1="145" x2="1464.7" y2="145" stroke="#484848" stroke-width="1.3"/>
<line x1="1357.9" y1="148.4" x2="1464.7" y2="148.4" stroke="#484848" stroke-width="1.3"/>
<path d="M1376.5 138L1389.8 130.5L1403.9 138" fill="none" stroke="#666" stroke-width="0.9"/>
<path d="M1413.9 138L1421.1 130.5L1428.6 138" fill="none" stroke="#666" stroke-width="0.9"/>
<path d="M1449.8 138L1457.2 130.5L1464.7 138" fill="none" stroke="#666" stroke-width="0.9"/>
<rect x="1361.2" y="138" width="15.3" height="17.5" fill="#8ed4f0" stroke="#4f9ed8" stroke-width="1.2"/>
<rect x="1403.9" y="138" width="10" height="17.5" fill="#8ed4f0" stroke="#4f9ed8" stroke-width="1.2"/>
<rect x="1428.6" y="138" width="21.2" height="17.5" fill="#8ed4f0" stroke="#4f9ed8" stroke-width="1.2"/>
<rect x="1464.7" y="138" width="6.8" height="17.5" fill="#8ed4f0"/>
<path d="M1471.5 138L1464.7 138L1464.7 155.5L1471.5 155.5" fill="none" stroke="#58a6dc" stroke-width="1.2"/>
<line x1="1439" y1="138.3" x2="1439" y2="155.2" stroke="#d8343b" stroke-width="2.2"/>
<text x="1334" y="151.1" stroke="#111111" stroke-width="0.4"><tspan font-style="italic">p</tspan>(</text>
<text x="1476.6" y="151.1" stroke="#111111" stroke-width="0.4">)</text>
<line x1="1529.5" y1="145.4" x2="1556" y2="145.4" stroke="#8e8e8e" stroke-width="1.9"/>
<path d="M1562 145.4L1551.8 141.1L1554.5 145.4L1551.8 149.7Z" fill="#8e8e8e"/>
<text x="1354.5" y="202" text-anchor="middle" stroke="#111111" stroke-width="0.4"><tspan font-style="italic">BRCA2</tspan> coding SNV</text>
<text x="1352.5" y="225" text-anchor="middle" fill="#9a9a9a" stroke="#9a9a9a" stroke-width="0.4">N = 4,490</text>
<line x1="1317" y1="233.8" x2="1317" y2="519.3" stroke="#adadad" stroke-width="1.2"/>
<line x1="1352.75" y1="233.8" x2="1352.75" y2="519.3" stroke="#adadad" stroke-width="1.2"/>
<line x1="1388.5" y1="233.8" x2="1388.5" y2="519.3" stroke="#adadad" stroke-width="1.2"/>
<rect x="1281.25" y="247.15" width="119" height="7.15" fill="#5b6e80" stroke="#1a1a1a" stroke-width="1.15"/>
<rect x="1281.25" y="254.3" width="75.25" height="7.15" fill="#8fa3c4" stroke="#1a1a1a" stroke-width="1.15"/>
<path d="M1281.25 248.15L1282.25 247.15M1295.45 254.3L1302.6 247.15M1315.8 254.3L1322.95 247.15M1336.15 254.3L1343.3 247.15M1356.5 254.3L1363.65 247.15M1376.85 254.3L1384 247.15M1397.2 254.3L1400.25 251.25" stroke="#0c0c0c" stroke-width="1.25" fill="none"/>
<path d="M1288.3 261.45L1295.45 254.3M1308.65 261.45L1315.8 254.3M1329 261.45L1336.15 254.3M1349.35 261.45L1356.5 254.3" stroke="#0c0c0c" stroke-width="1.25" fill="none"/>
<line x1="1277.25" y1="254.3" x2="1281.25" y2="254.3" stroke="#1a1a1a" stroke-width="1"/>
<text x="1274" y="259.7" text-anchor="end" stroke="#111111" stroke-width="0.4">AlphaMissense<tspan dy="-6.2" font-size="16.2">†</tspan></text>
<rect x="1281.25" y="267.57" width="114.25" height="7.15" fill="#a9a9a9" stroke="#1a1a1a" stroke-width="1.15"/>
<rect x="1281.25" y="274.72" width="63.75" height="7.15" fill="#e1e1e1" stroke="#1a1a1a" stroke-width="1.15"/>
<line x1="1277.25" y1="274.72" x2="1281.25" y2="274.72" stroke="#1a1a1a" stroke-width="1"/>
<text x="1273.2" y="280.12" text-anchor="end" stroke="#111111" stroke-width="0.4">GPN-MSA</text>
<rect x="1281.25" y="287.99" width="112.5" height="7.15" fill="#5b6e80" stroke="#1a1a1a" stroke-width="1.15"/>
<rect x="1281.25" y="295.14" width="57.25" height="7.15" fill="#8fa3c4" stroke="#1a1a1a" stroke-width="1.15"/>
<path d="M1281.25 288.85L1282.11 287.99M1295.31 295.14L1302.46 287.99M1315.66 295.14L1322.81 287.99M1336.01 295.14L1343.16 287.99M1356.36 295.14L1363.51 287.99M1376.71 295.14L1383.86 287.99" stroke="#0c0c0c" stroke-width="1.25" fill="none"/>
<path d="M1288.16 302.29L1295.31 295.14M1308.51 302.29L1315.66 295.14M1328.86 302.29L1336.01 295.14" stroke="#0c0c0c" stroke-width="1.25" fill="none"/>
<line x1="1277.25" y1="295.14" x2="1281.25" y2="295.14" stroke="#1a1a1a" stroke-width="1"/>
<text x="1274" y="300.54" text-anchor="end" stroke="#111111" stroke-width="0.4">CADD<tspan dy="-6.2" font-size="16.2">†</tspan></text>
<rect x="1281.25" y="308.41" width="110" height="7.15" fill="#cd5b67" stroke="#1a1a1a" stroke-width="1.15"/>
<rect x="1281.25" y="315.56" width="47.5" height="7.15" fill="#e8949b" stroke="#1a1a1a" stroke-width="1.15"/>
<line x1="1277.25" y1="315.56" x2="1281.25" y2="315.56" stroke="#1a1a1a" stroke-width="1"/>
<text x="1273.2" y="320.96" text-anchor="end" stroke="#111111" stroke-width="0.4">Evo 2 40B</text>
<rect x="1281.25" y="328.83" width="107.25" height="7.15" fill="#a9a9a9" stroke="#1a1a1a" stroke-width="1.15"/>
<rect x="1281.25" y="335.98" width="46.25" height="7.15" fill="#e1e1e1" stroke="#1a1a1a" stroke-width="1.15"/>
<line x1="1277.25" y1="335.98" x2="1281.25" y2="335.98" stroke="#1a1a1a" stroke-width="1"/>
<text x="1273.2" y="341.38" text-anchor="end" stroke="#111111" stroke-width="0.4">PhyloP 100</text>
<rect x="1281.25" y="349.25" width="106" height="7.15" fill="#a9a9a9" stroke="#1a1a1a" stroke-width="1.15"/>
<rect x="1281.25" y="356.4" width="40" height="7.15" fill="#e1e1e1" stroke="#1a1a1a" stroke-width="1.15"/>
<line x1="1277.25" y1="356.4" x2="1281.25" y2="356.4" stroke="#1a1a1a" stroke-width="1"/>
<text x="1273.2" y="361.8" text-anchor="end" stroke="#111111" stroke-width="0.4">PhyloP 447</text>
<rect x="1281.25" y="369.67" width="105.25" height="7.15" fill="#a9a9a9" stroke="#1a1a1a" stroke-width="1.15"/>
<rect x="1281.25" y="376.82" width="42.25" height="7.15" fill="#e1e1e1" stroke="#1a1a1a" stroke-width="1.15"/>
<line x1="1277.25" y1="376.82" x2="1281.25" y2="376.82" stroke="#1a1a1a" stroke-width="1"/>
<text x="1273.2" y="382.22" text-anchor="end" stroke="#111111" stroke-width="0.4">PhyloP 470</text>
<rect x="1281.25" y="390.09" width="104" height="7.15" fill="#cd5b67" stroke="#1a1a1a" stroke-width="1.15"/>
<rect x="1281.25" y="397.24" width="43.75" height="7.15" fill="#e8949b" stroke="#1a1a1a" stroke-width="1.15"/>
<line x1="1277.25" y1="397.24" x2="1281.25" y2="397.24" stroke="#1a1a1a" stroke-width="1"/>
<text x="1273.2" y="402.64" text-anchor="end" stroke="#111111" stroke-width="0.4">Evo 2 7B</text>
<rect x="1281.25" y="410.51" width="104" height="7.15" fill="#a9a9a9" stroke="#1a1a1a" stroke-width="1.15"/>
<rect x="1281.25" y="417.66" width="36.5" height="7.15" fill="#e1e1e1" stroke="#1a1a1a" stroke-width="1.15"/>
<line x1="1277.25" y1="417.66" x2="1281.25" y2="417.66" stroke="#1a1a1a" stroke-width="1"/>
<text x="1273.2" y="423.06" text-anchor="end" stroke="#111111" stroke-width="0.4">PhyloP 241</text>
<rect x="1281.25" y="430.93" width="80.25" height="7.15" fill="#5b6e80" stroke="#1a1a1a" stroke-width="1.15"/>
<rect x="1281.25" y="438.08" width="29.75" height="7.15" fill="#8fa3c4" stroke="#1a1a1a" stroke-width="1.15"/>
<path d="M1281.25 431.3L1281.62 430.93M1294.82 438.08L1301.97 430.93M1315.17 438.08L1322.32 430.93M1335.52 438.08L1342.67 430.93M1355.87 438.08L1361.5 432.45" stroke="#0c0c0c" stroke-width="1.25" fill="none"/>
<path d="M1287.67 445.23L1294.82 438.08M1308.02 445.23L1311 442.25" stroke="#0c0c0c" stroke-width="1.25" fill="none"/>
<line x1="1277.25" y1="438.08" x2="1281.25" y2="438.08" stroke="#1a1a1a" stroke-width="1"/>
<text x="1274" y="443.48" text-anchor="end" stroke="#111111" stroke-width="0.4">SpliceAI<tspan dy="-6.2" font-size="16.2">†</tspan></text>
<rect x="1281.25" y="451.35" width="78" height="7.15" fill="#5b6e80" stroke="#1a1a1a" stroke-width="1.15"/>
<rect x="1281.25" y="458.5" width="25.75" height="7.15" fill="#8fa3c4" stroke="#1a1a1a" stroke-width="1.15"/>
<path d="M1281.25 451.65L1281.55 451.35M1294.75 458.5L1301.9 451.35M1315.1 458.5L1322.25 451.35M1335.45 458.5L1342.6 451.35M1355.8 458.5L1359.25 455.05" stroke="#0c0c0c" stroke-width="1.25" fill="none"/>
<path d="M1287.6 465.65L1294.75 458.5" stroke="#0c0c0c" stroke-width="1.25" fill="none"/>
<line x1="1277.25" y1="458.5" x2="1281.25" y2="458.5" stroke="#1a1a1a" stroke-width="1"/>
<text x="1274" y="463.9" text-anchor="end" stroke="#111111" stroke-width="0.4">Pangolin<tspan dy="-6.2" font-size="16.2">†</tspan></text>
<rect x="1281.25" y="471.77" width="76.75" height="7.15" fill="#a9a9a9" stroke="#1a1a1a" stroke-width="1.15"/>
<rect x="1281.25" y="478.92" width="22.5" height="7.15" fill="#e1e1e1" stroke="#1a1a1a" stroke-width="1.15"/>
<line x1="1277.25" y1="478.92" x2="1281.25" y2="478.92" stroke="#1a1a1a" stroke-width="1"/>
<text x="1273.2" y="484.32" text-anchor="end" stroke="#111111" stroke-width="0.4">Evo 1</text>
<rect x="1281.25" y="492.19" width="71.75" height="7.15" fill="#a9a9a9" stroke="#1a1a1a" stroke-width="1.15"/>
<rect x="1281.25" y="499.34" width="19" height="7.15" fill="#e1e1e1" stroke="#1a1a1a" stroke-width="1.15"/>
<line x1="1277.25" y1="499.34" x2="1281.25" y2="499.34" stroke="#1a1a1a" stroke-width="1"/>
<text x="1273.2" y="504.74" text-anchor="end" stroke="#111111" stroke-width="0.4">NT</text>
<rect x="1281.25" y="233.8" width="143" height="285.5" fill="none" stroke="#1a1a1a" stroke-width="1.1"/>
<text x="1281.25" y="536.8" text-anchor="middle" stroke="#111111" stroke-width="0.4">0</text>
<text x="1352.75" y="536.8" text-anchor="middle" stroke="#111111" stroke-width="0.4">0.5</text>
<text x="1424.25" y="536.8" text-anchor="middle" stroke="#111111" stroke-width="0.4">1</text>
<text x="1348.5" y="557.6" text-anchor="middle" stroke="#111111" stroke-width="0.4">Score</text>
<text x="1691" y="202" text-anchor="middle" stroke="#111111" stroke-width="0.4"><tspan font-style="italic">BRCA2</tspan> noncoding SNV</text>
<text x="1695.5" y="225" text-anchor="middle" fill="#9a9a9a" stroke="#9a9a9a" stroke-width="0.4">N = 663</text>
<line x1="1659.81" y1="234" x2="1659.81" y2="519.5" stroke="#adadad" stroke-width="1.2"/>
<line x1="1695.62" y1="234" x2="1695.62" y2="519.5" stroke="#adadad" stroke-width="1.2"/>
<line x1="1731.44" y1="234" x2="1731.44" y2="519.5" stroke="#adadad" stroke-width="1.2"/>
<rect x="1624" y="247.15" width="134.25" height="7.15" fill="#5b6e80" stroke="#1a1a1a" stroke-width="1.15"/>
<rect x="1624" y="254.3" width="127.5" height="7.15" fill="#8fa3c4" stroke="#1a1a1a" stroke-width="1.15"/>
<path d="M1624 248.65L1625.5 247.15M1638.7 254.3L1645.85 247.15M1659.05 254.3L1666.2 247.15M1679.4 254.3L1686.55 247.15M1699.75 254.3L1706.9 247.15M1720.1 254.3L1727.25 247.15M1740.45 254.3L1747.6 247.15" stroke="#0c0c0c" stroke-width="1.25" fill="none"/>
<path d="M1631.55 261.45L1638.7 254.3M1651.9 261.45L1659.05 254.3M1672.25 261.45L1679.4 254.3M1692.6 261.45L1699.75 254.3M1712.95 261.45L1720.1 254.3M1733.3 261.45L1740.45 254.3" stroke="#0c0c0c" stroke-width="1.25" fill="none"/>
<line x1="1620" y1="254.3" x2="1624" y2="254.3" stroke="#1a1a1a" stroke-width="1"/>
<text x="1617.1" y="259.7" text-anchor="end" stroke="#111111" stroke-width="0.4">SpliceAI<tspan dy="-6.2" font-size="16.2">†</tspan></text>
<rect x="1624" y="267.57" width="132.25" height="7.15" fill="#5b6e80" stroke="#1a1a1a" stroke-width="1.15"/>
<rect x="1624" y="274.72" width="123.5" height="7.15" fill="#8fa3c4" stroke="#1a1a1a" stroke-width="1.15"/>
<path d="M1624 269L1625.43 267.57M1638.63 274.72L1645.78 267.57M1658.98 274.72L1666.13 267.57M1679.33 274.72L1686.48 267.57M1699.68 274.72L1706.83 267.57M1720.03 274.72L1727.18 267.57M1740.38 274.72L1747.53 267.57" stroke="#0c0c0c" stroke-width="1.25" fill="none"/>
<path d="M1631.48 281.87L1638.63 274.72M1651.83 281.87L1658.98 274.72M1672.18 281.87L1679.33 274.72M1692.53 281.87L1699.68 274.72M1712.88 281.87L1720.03 274.72M1733.23 281.87L1740.38 274.72" stroke="#0c0c0c" stroke-width="1.25" fill="none"/>
<line x1="1620" y1="274.72" x2="1624" y2="274.72" stroke="#1a1a1a" stroke-width="1"/>
<text x="1617.1" y="280.12" text-anchor="end" stroke="#111111" stroke-width="0.4">CADD<tspan dy="-6.2" font-size="16.2">†</tspan></text>
<rect x="1624" y="287.99" width="130" height="7.15" fill="#cd5b67" stroke="#1a1a1a" stroke-width="1.15"/>
<rect x="1624" y="295.14" width="112.25" height="7.15" fill="#e8949b" stroke="#1a1a1a" stroke-width="1.15"/>
<line x1="1620" y1="295.14" x2="1624" y2="295.14" stroke="#1a1a1a" stroke-width="1"/>
<text x="1616.3" y="300.54" text-anchor="end" stroke="#111111" stroke-width="0.4">Evo 2 40B</text>
<rect x="1624" y="308.41" width="129.5" height="7.15" fill="#a9a9a9" stroke="#1a1a1a" stroke-width="1.15"/>
<rect x="1624" y="315.56" width="119.25" height="7.15" fill="#e1e1e1" stroke="#1a1a1a" stroke-width="1.15"/>
<line x1="1620" y1="315.56" x2="1624" y2="315.56" stroke="#1a1a1a" stroke-width="1"/>
<text x="1616.3" y="320.96" text-anchor="end" stroke="#111111" stroke-width="0.4">GPN-MSA</text>
<rect x="1624" y="328.83" width="127" height="7.15" fill="#a9a9a9" stroke="#1a1a1a" stroke-width="1.15"/>
<rect x="1624" y="335.98" width="118.25" height="7.15" fill="#e1e1e1" stroke="#1a1a1a" stroke-width="1.15"/>
<line x1="1620" y1="335.98" x2="1624" y2="335.98" stroke="#1a1a1a" stroke-width="1"/>
<text x="1616.3" y="341.38" text-anchor="end" stroke="#111111" stroke-width="0.4">PhyloP 100</text>
<rect x="1624" y="349.25" width="126.75" height="7.15" fill="#a9a9a9" stroke="#1a1a1a" stroke-width="1.15"/>
<rect x="1624" y="356.4" width="117.75" height="7.15" fill="#e1e1e1" stroke="#1a1a1a" stroke-width="1.15"/>
<line x1="1620" y1="356.4" x2="1624" y2="356.4" stroke="#1a1a1a" stroke-width="1"/>
<text x="1616.3" y="361.8" text-anchor="end" stroke="#111111" stroke-width="0.4">PhyloP 241</text>
<rect x="1624" y="369.67" width="126" height="7.15" fill="#a9a9a9" stroke="#1a1a1a" stroke-width="1.15"/>
<rect x="1624" y="376.82" width="116.25" height="7.15" fill="#e1e1e1" stroke="#1a1a1a" stroke-width="1.15"/>
<line x1="1620" y1="376.82" x2="1624" y2="376.82" stroke="#1a1a1a" stroke-width="1"/>
<text x="1616.3" y="382.22" text-anchor="end" stroke="#111111" stroke-width="0.4">PhyloP 447</text>
<rect x="1624" y="390.09" width="125.5" height="7.15" fill="#a9a9a9" stroke="#1a1a1a" stroke-width="1.15"/>
<rect x="1624" y="397.24" width="113.75" height="7.15" fill="#e1e1e1" stroke="#1a1a1a" stroke-width="1.15"/>
<line x1="1620" y1="397.24" x2="1624" y2="397.24" stroke="#1a1a1a" stroke-width="1"/>
<text x="1616.3" y="402.64" text-anchor="end" stroke="#111111" stroke-width="0.4">PhyloP 470</text>
<rect x="1624" y="410.51" width="125" height="7.15" fill="#cd5b67" stroke="#1a1a1a" stroke-width="1.15"/>
<rect x="1624" y="417.66" width="102" height="7.15" fill="#e8949b" stroke="#1a1a1a" stroke-width="1.15"/>
<line x1="1620" y1="417.66" x2="1624" y2="417.66" stroke="#1a1a1a" stroke-width="1"/>
<text x="1616.3" y="423.06" text-anchor="end" stroke="#111111" stroke-width="0.4">Evo 2 7B</text>
<rect x="1624" y="430.93" width="120.25" height="7.15" fill="#5b6e80" stroke="#1a1a1a" stroke-width="1.15"/>
<rect x="1624" y="438.08" width="102.25" height="7.15" fill="#8fa3c4" stroke="#1a1a1a" stroke-width="1.15"/>
<path d="M1624 431.8L1624.87 430.93M1638.07 438.08L1645.22 430.93M1658.42 438.08L1665.57 430.93M1678.77 438.08L1685.92 430.93M1699.12 438.08L1706.27 430.93M1719.47 438.08L1726.62 430.93M1739.82 438.08L1744.25 433.65" stroke="#0c0c0c" stroke-width="1.25" fill="none"/>
<path d="M1630.92 445.23L1638.07 438.08M1651.27 445.23L1658.42 438.08M1671.62 445.23L1678.77 438.08M1691.97 445.23L1699.12 438.08M1712.32 445.23L1719.47 438.08" stroke="#0c0c0c" stroke-width="1.25" fill="none"/>
<line x1="1620" y1="438.08" x2="1624" y2="438.08" stroke="#1a1a1a" stroke-width="1"/>
<text x="1617.1" y="443.48" text-anchor="end" stroke="#111111" stroke-width="0.4">Pangolin<tspan dy="-6.2" font-size="16.2">†</tspan></text>
<rect x="1624" y="451.35" width="79.25" height="7.15" fill="#a9a9a9" stroke="#1a1a1a" stroke-width="1.15"/>
<rect x="1624" y="458.5" width="51.5" height="7.15" fill="#e1e1e1" stroke="#1a1a1a" stroke-width="1.15"/>
<line x1="1620" y1="458.5" x2="1624" y2="458.5" stroke="#1a1a1a" stroke-width="1"/>
<text x="1616.3" y="463.9" text-anchor="end" stroke="#111111" stroke-width="0.4">NT</text>
<rect x="1624" y="471.77" width="77.75" height="7.15" fill="#a9a9a9" stroke="#1a1a1a" stroke-width="1.15"/>
<rect x="1624" y="478.92" width="38.25" height="7.15" fill="#e1e1e1" stroke="#1a1a1a" stroke-width="1.15"/>
<line x1="1620" y1="478.92" x2="1624" y2="478.92" stroke="#1a1a1a" stroke-width="1"/>
<text x="1616.3" y="484.32" text-anchor="end" stroke="#111111" stroke-width="0.4">Evo 1</text>
<rect x="1624" y="492.19" width="77.25" height="7.15" fill="#a9a9a9" stroke="#1a1a1a" stroke-width="1.15"/>
<rect x="1624" y="499.34" width="44.5" height="7.15" fill="#e1e1e1" stroke="#1a1a1a" stroke-width="1.15"/>
<line x1="1620" y1="499.34" x2="1624" y2="499.34" stroke="#1a1a1a" stroke-width="1"/>
<text x="1616.3" y="504.74" text-anchor="end" stroke="#111111" stroke-width="0.4">RNA-FM</text>
<rect x="1624" y="234" width="143.25" height="285.5" fill="none" stroke="#1a1a1a" stroke-width="1.1"/>
<text x="1624" y="536.5" text-anchor="middle" stroke="#111111" stroke-width="0.4">0</text>
<text x="1695.62" y="536.5" text-anchor="middle" stroke="#111111" stroke-width="0.4">0.5</text>
<text x="1767.25" y="536.5" text-anchor="middle" stroke="#111111" stroke-width="0.4">1</text>
<text x="1695.5" y="557" text-anchor="middle" stroke="#111111" stroke-width="0.4">Score</text>
<text x="2025" y="37" text-anchor="middle" stroke="#111111" stroke-width="0.4"><tspan font-style="italic">BRCA2</tspan> coding and</text>
<text x="2025" y="61.8" text-anchor="middle" stroke="#111111" stroke-width="0.4">noncoding SNVs</text>
<text x="2033.5" y="86.3" text-anchor="middle" fill="#9a9a9a" stroke="#9a9a9a" stroke-width="0.4">N = 6,837</text>
<line x1="1998.68" y1="92" x2="1998.68" y2="520.3" stroke="#adadad" stroke-width="1.2"/>
<line x1="2034.45" y1="92" x2="2034.45" y2="520.3" stroke="#adadad" stroke-width="1.2"/>
<line x1="2070.22" y1="92" x2="2070.22" y2="520.3" stroke="#adadad" stroke-width="1.2"/>
<rect x="1962.9" y="111.8" width="126.35" height="11.5" fill="#5b6e80" stroke="#1a1a1a" stroke-width="1.15"/>
<rect x="1962.9" y="123.3" width="105.35" height="11.5" fill="#8fa3c4" stroke="#1a1a1a" stroke-width="1.15"/>
<path d="M1971.7 123.3L1983.2 111.8M1992.05 123.3L2003.55 111.8M2012.4 123.3L2023.9 111.8M2032.75 123.3L2044.25 111.8M2053.1 123.3L2064.6 111.8M2073.45 123.3L2084.95 111.8" stroke="#0c0c0c" stroke-width="1.25" fill="none"/>
<path d="M1962.9 132.1L1971.7 123.3M1980.55 134.8L1992.05 123.3M2000.9 134.8L2012.4 123.3M2021.25 134.8L2032.75 123.3M2041.6 134.8L2053.1 123.3M2061.95 134.8L2068.25 128.5" stroke="#0c0c0c" stroke-width="1.25" fill="none"/>
<line x1="1958.9" y1="123.3" x2="1962.9" y2="123.3" stroke="#1a1a1a" stroke-width="1"/>
<text x="1957.2" y="128.9" text-anchor="end" stroke="#111111" stroke-width="0.4">CADD<tspan dy="-6.2" font-size="16.2">†</tspan></text>
<rect x="1962.9" y="145.12" width="120.6" height="11.5" fill="#cd5b67" stroke="#1a1a1a" stroke-width="1.15"/>
<rect x="1962.9" y="156.62" width="75.6" height="11.5" fill="#e8949b" stroke="#1a1a1a" stroke-width="1.15"/>
<line x1="1958.9" y1="156.62" x2="1962.9" y2="156.62" stroke="#1a1a1a" stroke-width="1"/>
<text x="1956.4" y="162.22" text-anchor="end" stroke="#111111" stroke-width="0.4">Evo 2 40B</text>
<rect x="1962.9" y="178.44" width="119.6" height="11.5" fill="#a9a9a9" stroke="#1a1a1a" stroke-width="1.15"/>
<rect x="1962.9" y="189.94" width="81.35" height="11.5" fill="#e1e1e1" stroke="#1a1a1a" stroke-width="1.15"/>
<line x1="1958.9" y1="189.94" x2="1962.9" y2="189.94" stroke="#1a1a1a" stroke-width="1"/>
<text x="1956.4" y="195.54" text-anchor="end" stroke="#111111" stroke-width="0.4">GPN-MSA</text>
<rect x="1962.9" y="211.76" width="119.35" height="11.5" fill="#cd5b67" stroke="#1a1a1a" stroke-width="1.15"/>
<rect x="1962.9" y="223.26" width="81.1" height="11.5" fill="#e8949b" stroke="#1a1a1a" stroke-width="1.15"/>
<line x1="1958.9" y1="223.26" x2="1962.9" y2="223.26" stroke="#1a1a1a" stroke-width="1"/>
<text x="1956.4" y="228.86" text-anchor="end" stroke="#111111" stroke-width="0.4">Evo 2 7B</text>
<rect x="1962.9" y="245.08" width="108.35" height="11.5" fill="#a9a9a9" stroke="#1a1a1a" stroke-width="1.15"/>
<rect x="1962.9" y="256.58" width="52.35" height="11.5" fill="#e1e1e1" stroke="#1a1a1a" stroke-width="1.15"/>
<line x1="1958.9" y1="256.58" x2="1962.9" y2="256.58" stroke="#1a1a1a" stroke-width="1"/>
<text x="1956.4" y="262.18" text-anchor="end" stroke="#111111" stroke-width="0.4">PhyloP 447</text>
<rect x="1962.9" y="278.4" width="108.35" height="11.5" fill="#a9a9a9" stroke="#1a1a1a" stroke-width="1.15"/>
<rect x="1962.9" y="289.9" width="56.6" height="11.5" fill="#e1e1e1" stroke="#1a1a1a" stroke-width="1.15"/>
<line x1="1958.9" y1="289.9" x2="1962.9" y2="289.9" stroke="#1a1a1a" stroke-width="1"/>
<text x="1956.4" y="295.5" text-anchor="end" stroke="#111111" stroke-width="0.4">PhyloP 100</text>
<rect x="1962.9" y="311.72" width="107.6" height="11.5" fill="#a9a9a9" stroke="#1a1a1a" stroke-width="1.15"/>
<rect x="1962.9" y="323.22" width="56.85" height="11.5" fill="#e1e1e1" stroke="#1a1a1a" stroke-width="1.15"/>
<line x1="1958.9" y1="323.22" x2="1962.9" y2="323.22" stroke="#1a1a1a" stroke-width="1"/>
<text x="1956.4" y="328.82" text-anchor="end" stroke="#111111" stroke-width="0.4">PhyloP 470</text>
<rect x="1962.9" y="345.04" width="107.1" height="11.5" fill="#a9a9a9" stroke="#1a1a1a" stroke-width="1.15"/>
<rect x="1962.9" y="356.54" width="49.35" height="11.5" fill="#e1e1e1" stroke="#1a1a1a" stroke-width="1.15"/>
<line x1="1958.9" y1="356.54" x2="1962.9" y2="356.54" stroke="#1a1a1a" stroke-width="1"/>
<text x="1956.4" y="362.14" text-anchor="end" stroke="#111111" stroke-width="0.4">PhyloP 241</text>
<rect x="1962.9" y="378.36" width="92.35" height="11.5" fill="#5b6e80" stroke="#1a1a1a" stroke-width="1.15"/>
<rect x="1962.9" y="389.86" width="56.1" height="11.5" fill="#8fa3c4" stroke="#1a1a1a" stroke-width="1.15"/>
<path d="M1969.69 389.86L1981.19 378.36M1990.04 389.86L2001.54 378.36M2010.39 389.86L2021.89 378.36M2030.74 389.86L2042.24 378.36M2051.09 389.86L2055.25 385.7" stroke="#0c0c0c" stroke-width="1.25" fill="none"/>
<path d="M1962.9 396.65L1969.69 389.86M1978.54 401.36L1990.04 389.86M1998.89 401.36L2010.39 389.86" stroke="#0c0c0c" stroke-width="1.25" fill="none"/>
<line x1="1958.9" y1="389.86" x2="1962.9" y2="389.86" stroke="#1a1a1a" stroke-width="1"/>
<text x="1957.2" y="395.46" text-anchor="end" stroke="#111111" stroke-width="0.4">SpliceAI<tspan dy="-6.2" font-size="16.2">†</tspan></text>
<rect x="1962.9" y="411.68" width="84.35" height="11.5" fill="#5b6e80" stroke="#1a1a1a" stroke-width="1.15"/>
<rect x="1962.9" y="423.18" width="42.35" height="11.5" fill="#8fa3c4" stroke="#1a1a1a" stroke-width="1.15"/>
<path d="M1962.9 417L1968.22 411.68M1977.07 423.18L1988.57 411.68M1997.42 423.18L2008.92 411.68M2017.77 423.18L2029.27 411.68M2038.12 423.18L2047.25 414.05" stroke="#0c0c0c" stroke-width="1.25" fill="none"/>
<path d="M1965.57 434.68L1977.07 423.18M1985.92 434.68L1997.42 423.18" stroke="#0c0c0c" stroke-width="1.25" fill="none"/>
<line x1="1958.9" y1="423.18" x2="1962.9" y2="423.18" stroke="#1a1a1a" stroke-width="1"/>
<text x="1957.2" y="428.78" text-anchor="end" stroke="#111111" stroke-width="0.4">Pangolin<tspan dy="-6.2" font-size="16.2">†</tspan></text>
<rect x="1962.9" y="445" width="77.1" height="11.5" fill="#a9a9a9" stroke="#1a1a1a" stroke-width="1.15"/>
<rect x="1962.9" y="456.5" width="32.1" height="11.5" fill="#e1e1e1" stroke="#1a1a1a" stroke-width="1.15"/>
<line x1="1958.9" y1="456.5" x2="1962.9" y2="456.5" stroke="#1a1a1a" stroke-width="1"/>
<text x="1956.4" y="462.1" text-anchor="end" stroke="#111111" stroke-width="0.4">Evo 1</text>
<rect x="1962.9" y="478.32" width="73.35" height="11.5" fill="#a9a9a9" stroke="#1a1a1a" stroke-width="1.15"/>
<rect x="1962.9" y="489.82" width="24.85" height="11.5" fill="#e1e1e1" stroke="#1a1a1a" stroke-width="1.15"/>
<line x1="1958.9" y1="489.82" x2="1962.9" y2="489.82" stroke="#1a1a1a" stroke-width="1"/>
<text x="1956.4" y="495.42" text-anchor="end" stroke="#111111" stroke-width="0.4">NT</text>
<rect x="1962.9" y="92" width="143.1" height="428.3" fill="none" stroke="#1a1a1a" stroke-width="1.1"/>
<text x="1962.9" y="537" text-anchor="middle" stroke="#111111" stroke-width="0.4">0</text>
<text x="2034.45" y="537" text-anchor="middle" stroke="#111111" stroke-width="0.4">0.5</text>
<text x="2106" y="537" text-anchor="middle" stroke="#111111" stroke-width="0.4">1</text>
<text x="2036" y="557" text-anchor="middle" stroke="#111111" stroke-width="0.4">Score</text>
<rect x="1791.3" y="534.3" width="15.3" height="15.3" fill="#cd5b67" stroke="#1a1a1a" stroke-width="1"/>
<rect x="1810" y="534.3" width="15.3" height="15.3" fill="#a9a9a9" stroke="#1a1a1a" stroke-width="1"/>
<rect x="1828.7" y="534.3" width="15.3" height="15.3" fill="#5b6e80" stroke="#1a1a1a" stroke-width="1"/>
<line x1="1828.7" y1="549.6" x2="1844" y2="534.3" stroke="#111" stroke-width="1"/>
<text x="1849.3" y="548.8" stroke="#111111" stroke-width="0.4">AUROC</text>
<rect x="1791.3" y="556.8" width="15.3" height="15.3" fill="#e8949b" stroke="#1a1a1a" stroke-width="1"/>
<rect x="1810" y="556.8" width="15.3" height="15.3" fill="#e1e1e1" stroke="#1a1a1a" stroke-width="1"/>
<rect x="1828.7" y="556.8" width="15.3" height="15.3" fill="#8fa3c4" stroke="#1a1a1a" stroke-width="1"/>
<line x1="1828.7" y1="572.1" x2="1844" y2="556.8" stroke="#111" stroke-width="1"/>
<text x="1849.3" y="571.6" stroke="#111111" stroke-width="0.4">AUPRC</text>
<text x="1434.5" y="594.8" stroke="#111111" stroke-width="0.4"><tspan dy="-6.2" font-size="16.2">†</tspan><tspan dy="6.2" dx="2.4">Supervised model</tspan></text>
</g>
<g id="panel-d">
<text x="3.3" y="639.5" font-size="33.2" stroke="#111111" stroke-width="0" font-weight="bold">d</text>
<line x1="101.25" y1="695.2" x2="2151.25" y2="695.2" stroke="#adadad" stroke-width="1.1"/>
<line x1="101.25" y1="750.9" x2="2151.25" y2="750.9" stroke="#adadad" stroke-width="1.1"/>
<line x1="101.25" y1="806.6" x2="2151.25" y2="806.6" stroke="#adadad" stroke-width="1.1"/>
<line x1="101.25" y1="862.3" x2="2151.25" y2="862.3" stroke="#adadad" stroke-width="1.1"/>
<line x1="101.25" y1="918" x2="2151.25" y2="918" stroke="#adadad" stroke-width="1.1"/>
<rect x="104.25" y="853.25" width="19.8" height="93" fill="#bd6a70" stroke="#1a1a1a" stroke-width="1.25"/>
<line x1="114.15" y1="946.25" x2="114.15" y2="951.75" stroke="#1a1a1a" stroke-width="1"/>
<text text-anchor="end" stroke="#111111" stroke-width="0.4" transform="translate(120.35 954.3) rotate(-90)">0</text>
<rect x="129.25" y="772.25" width="19.8" height="174" fill="#bd6a70" stroke="#1a1a1a" stroke-width="1.25"/>
<line x1="139.15" y1="946.25" x2="139.15" y2="951.75" stroke="#1a1a1a" stroke-width="1"/>
<text text-anchor="end" stroke="#111111" stroke-width="0.4" transform="translate(145.35 954.3) rotate(-90)">1</text>
<rect x="154.25" y="740.5" width="19.8" height="205.75" fill="#bd6a70" stroke="#1a1a1a" stroke-width="1.25"/>
<line x1="164.15" y1="946.25" x2="164.15" y2="951.75" stroke="#1a1a1a" stroke-width="1"/>
<text text-anchor="end" stroke="#111111" stroke-width="0.4" transform="translate(170.35 954.3) rotate(-90)">2</text>
<rect x="179.25" y="721.25" width="19.8" height="225" fill="#bd6a70" stroke="#1a1a1a" stroke-width="1.25"/>
<line x1="189.15" y1="946.25" x2="189.15" y2="951.75" stroke="#1a1a1a" stroke-width="1"/>
<text text-anchor="end" stroke="#111111" stroke-width="0.4" transform="translate(195.35 954.3) rotate(-90)">3</text>
<rect x="204.25" y="700.5" width="19.8" height="245.75" fill="#bd6a70" stroke="#1a1a1a" stroke-width="1.25"/>
<line x1="214.15" y1="946.25" x2="214.15" y2="951.75" stroke="#1a1a1a" stroke-width="1"/>
<text text-anchor="end" stroke="#111111" stroke-width="0.4" transform="translate(220.35 954.3) rotate(-90)">4</text>
<rect x="229.25" y="693.5" width="19.8" height="252.75" fill="#bd6a70" stroke="#1a1a1a" stroke-width="1.25"/>
<line x1="239.15" y1="946.25" x2="239.15" y2="951.75" stroke="#1a1a1a" stroke-width="1"/>
<text text-anchor="end" stroke="#111111" stroke-width="0.4" transform="translate(245.35 954.3) rotate(-90)">5</text>
<rect x="254.25" y="684" width="19.8" height="262.25" fill="#bd6a70" stroke="#1a1a1a" stroke-width="1.25"/>
<line x1="264.15" y1="946.25" x2="264.15" y2="951.75" stroke="#1a1a1a" stroke-width="1"/>
<text text-anchor="end" stroke="#111111" stroke-width="0.4" transform="translate(270.35 954.3) rotate(-90)">6</text>
<rect x="279.25" y="683" width="19.8" height="263.25" fill="#bd6a70" stroke="#1a1a1a" stroke-width="1.25"/>
<line x1="289.15" y1="946.25" x2="289.15" y2="951.75" stroke="#1a1a1a" stroke-width="1"/>
<text text-anchor="end" stroke="#111111" stroke-width="0.4" transform="translate(295.35 954.3) rotate(-90)">7</text>
<rect x="304.25" y="683" width="19.8" height="263.25" fill="#bd6a70" stroke="#1a1a1a" stroke-width="1.25"/>
<line x1="314.15" y1="946.25" x2="314.15" y2="951.75" stroke="#1a1a1a" stroke-width="1"/>
<text text-anchor="end" stroke="#111111" stroke-width="0.4" transform="translate(320.35 954.3) rotate(-90)">8</text>
<rect x="329.25" y="684.25" width="19.8" height="262" fill="#bd6a70" stroke="#1a1a1a" stroke-width="1.25"/>
<line x1="339.15" y1="946.25" x2="339.15" y2="951.75" stroke="#1a1a1a" stroke-width="1"/>
<text text-anchor="end" stroke="#111111" stroke-width="0.4" transform="translate(345.35 954.3) rotate(-90)">9</text>
<rect x="354.25" y="683" width="19.8" height="263.25" fill="#bd6a70" stroke="#1a1a1a" stroke-width="1.25"/>
<line x1="364.15" y1="946.25" x2="364.15" y2="951.75" stroke="#1a1a1a" stroke-width="1"/>
<text text-anchor="end" stroke="#111111" stroke-width="0.4" transform="translate(370.35 954.3) rotate(-90)">10</text>
<rect x="379.25" y="681.5" width="19.8" height="264.75" fill="#bd6a70" stroke="#1a1a1a" stroke-width="1.25"/>
<line x1="389.15" y1="946.25" x2="389.15" y2="951.75" stroke="#1a1a1a" stroke-width="1"/>
<text text-anchor="end" stroke="#111111" stroke-width="0.4" transform="translate(395.35 954.3) rotate(-90)">11</text>
<rect x="404.25" y="681.75" width="19.8" height="264.5" fill="#bd6a70" stroke="#1a1a1a" stroke-width="1.25"/>
<line x1="414.15" y1="946.25" x2="414.15" y2="951.75" stroke="#1a1a1a" stroke-width="1"/>
<text text-anchor="end" stroke="#111111" stroke-width="0.4" transform="translate(420.35 954.3) rotate(-90)">12</text>
<rect x="429.25" y="682.25" width="19.8" height="264" fill="#bd6a70" stroke="#1a1a1a" stroke-width="1.25"/>
<line x1="439.15" y1="946.25" x2="439.15" y2="951.75" stroke="#1a1a1a" stroke-width="1"/>
<text text-anchor="end" stroke="#111111" stroke-width="0.4" transform="translate(445.35 954.3) rotate(-90)">13</text>
<rect x="454.25" y="681.5" width="19.8" height="264.75" fill="#bd6a70" stroke="#1a1a1a" stroke-width="1.25"/>
<line x1="464.15" y1="946.25" x2="464.15" y2="951.75" stroke="#1a1a1a" stroke-width="1"/>
<text text-anchor="end" stroke="#111111" stroke-width="0.4" transform="translate(470.35 954.3) rotate(-90)">14</text>
<rect x="479.25" y="681.5" width="19.8" height="264.75" fill="#bd6a70" stroke="#1a1a1a" stroke-width="1.25"/>
<line x1="489.15" y1="946.25" x2="489.15" y2="951.75" stroke="#1a1a1a" stroke-width="1"/>
<text text-anchor="end" stroke="#111111" stroke-width="0.4" transform="translate(495.35 954.3) rotate(-90)">15</text>
<rect x="504.25" y="676.5" width="19.8" height="269.75" fill="#bd6a70" stroke="#1a1a1a" stroke-width="1.25"/>
<line x1="514.15" y1="946.25" x2="514.15" y2="951.75" stroke="#1a1a1a" stroke-width="1"/>
<text text-anchor="end" stroke="#111111" stroke-width="0.4" transform="translate(520.35 954.3) rotate(-90)">16</text>
<rect x="529.25" y="674.5" width="19.8" height="271.75" fill="#bd6a70" stroke="#1a1a1a" stroke-width="1.25"/>
<line x1="539.15" y1="946.25" x2="539.15" y2="951.75" stroke="#1a1a1a" stroke-width="1"/>
<text text-anchor="end" stroke="#111111" stroke-width="0.4" transform="translate(545.35 954.3) rotate(-90)">17</text>
<rect x="554.25" y="673.25" width="19.8" height="273" fill="#bd6a70" stroke="#1a1a1a" stroke-width="1.25"/>
<line x1="564.15" y1="946.25" x2="564.15" y2="951.75" stroke="#1a1a1a" stroke-width="1"/>
<text text-anchor="end" stroke="#111111" stroke-width="0.4" transform="translate(570.35 954.3) rotate(-90)">18</text>
<rect x="579.25" y="672.25" width="19.8" height="274" fill="#bd6a70" stroke="#1a1a1a" stroke-width="1.25"/>
<line x1="589.15" y1="946.25" x2="589.15" y2="951.75" stroke="#1a1a1a" stroke-width="1"/>
<text text-anchor="end" stroke="#111111" stroke-width="0.4" transform="translate(595.35 954.3) rotate(-90)">19</text>
<rect x="604.25" y="671.5" width="19.8" height="274.75" fill="#bd6a70" stroke="#1a1a1a" stroke-width="1.25"/>
<line x1="614.15" y1="946.25" x2="614.15" y2="951.75" stroke="#1a1a1a" stroke-width="1"/>
<text text-anchor="end" stroke="#111111" stroke-width="0.4" transform="translate(620.35 954.3) rotate(-90)">20</text>
<rect x="629.25" y="672.5" width="19.8" height="273.75" fill="#bd6a70" stroke="#1a1a1a" stroke-width="1.25"/>
<line x1="639.15" y1="946.25" x2="639.15" y2="951.75" stroke="#1a1a1a" stroke-width="1"/>
<text text-anchor="end" stroke="#111111" stroke-width="0.4" transform="translate(645.35 954.3) rotate(-90)">21</text>
<rect x="654.25" y="680" width="19.8" height="266.25" fill="#bd6a70" stroke="#1a1a1a" stroke-width="1.25"/>
<line x1="664.15" y1="946.25" x2="664.15" y2="951.75" stroke="#1a1a1a" stroke-width="1"/>
<text text-anchor="end" stroke="#111111" stroke-width="0.4" transform="translate(670.35 954.3) rotate(-90)">22</text>
<rect x="679.25" y="677.25" width="19.8" height="269" fill="#bd6a70" stroke="#1a1a1a" stroke-width="1.25"/>
<line x1="689.15" y1="946.25" x2="689.15" y2="951.75" stroke="#1a1a1a" stroke-width="1"/>
<text text-anchor="end" stroke="#111111" stroke-width="0.4" transform="translate(695.35 954.3) rotate(-90)">23</text>
<rect x="704.25" y="685.75" width="19.8" height="260.5" fill="#bd6a70" stroke="#1a1a1a" stroke-width="1.25"/>
<line x1="714.15" y1="946.25" x2="714.15" y2="951.75" stroke="#1a1a1a" stroke-width="1"/>
<text text-anchor="end" stroke="#111111" stroke-width="0.4" transform="translate(720.35 954.3) rotate(-90)">24</text>
<rect x="729.25" y="684.75" width="19.8" height="261.5" fill="#bd6a70" stroke="#1a1a1a" stroke-width="1.25"/>
<line x1="739.15" y1="946.25" x2="739.15" y2="951.75" stroke="#1a1a1a" stroke-width="1"/>
<text text-anchor="end" stroke="#111111" stroke-width="0.4" transform="translate(745.35 954.3) rotate(-90)">25</text>
<rect x="754.25" y="686.5" width="19.8" height="259.75" fill="#bd6a70" stroke="#1a1a1a" stroke-width="1.25"/>
<line x1="764.15" y1="946.25" x2="764.15" y2="951.75" stroke="#1a1a1a" stroke-width="1"/>
<text text-anchor="end" stroke="#111111" stroke-width="0.4" transform="translate(770.35 954.3) rotate(-90)">26</text>
<rect x="779.25" y="685.5" width="19.8" height="260.75" fill="#bd6a70" stroke="#1a1a1a" stroke-width="1.25"/>
<line x1="789.15" y1="946.25" x2="789.15" y2="951.75" stroke="#1a1a1a" stroke-width="1"/>
<text text-anchor="end" stroke="#111111" stroke-width="0.4" transform="translate(795.35 954.3) rotate(-90)">27</text>
<rect x="804.25" y="684.5" width="19.8" height="261.75" fill="#bd6a70" stroke="#1a1a1a" stroke-width="1.25"/>
<line x1="814.15" y1="946.25" x2="814.15" y2="951.75" stroke="#1a1a1a" stroke-width="1"/>
<text text-anchor="end" stroke="#111111" stroke-width="0.4" transform="translate(820.35 954.3) rotate(-90)">28</text>
<rect x="829.25" y="684.5" width="19.8" height="261.75" fill="#bd6a70" stroke="#1a1a1a" stroke-width="1.25"/>
<line x1="839.15" y1="946.25" x2="839.15" y2="951.75" stroke="#1a1a1a" stroke-width="1"/>
<text text-anchor="end" stroke="#111111" stroke-width="0.4" transform="translate(845.35 954.3) rotate(-90)">29</text>
<rect x="854.25" y="685.75" width="19.8" height="260.5" fill="#bd6a70" stroke="#1a1a1a" stroke-width="1.25"/>
<line x1="864.15" y1="946.25" x2="864.15" y2="951.75" stroke="#1a1a1a" stroke-width="1"/>
<text text-anchor="end" stroke="#111111" stroke-width="0.4" transform="translate(870.35 954.3) rotate(-90)">30</text>
<rect x="879.25" y="685.5" width="19.8" height="260.75" fill="#bd6a70" stroke="#1a1a1a" stroke-width="1.25"/>
<line x1="889.15" y1="946.25" x2="889.15" y2="951.75" stroke="#1a1a1a" stroke-width="1"/>
<text text-anchor="end" stroke="#111111" stroke-width="0.4" transform="translate(895.35 954.3) rotate(-90)">31</text>
<rect x="904.25" y="683.75" width="19.8" height="262.5" fill="#bd6a70" stroke="#1a1a1a" stroke-width="1.25"/>
<line x1="914.15" y1="946.25" x2="914.15" y2="951.75" stroke="#1a1a1a" stroke-width="1"/>
<text text-anchor="end" stroke="#111111" stroke-width="0.4" transform="translate(920.35 954.3) rotate(-90)">32</text>
<rect x="929.25" y="685.75" width="19.8" height="260.5" fill="#bd6a70" stroke="#1a1a1a" stroke-width="1.25"/>
<line x1="939.15" y1="946.25" x2="939.15" y2="951.75" stroke="#1a1a1a" stroke-width="1"/>
<text text-anchor="end" stroke="#111111" stroke-width="0.4" transform="translate(945.35 954.3) rotate(-90)">33</text>
<rect x="954.25" y="685.5" width="19.8" height="260.75" fill="#bd6a70" stroke="#1a1a1a" stroke-width="1.25"/>
<line x1="964.15" y1="946.25" x2="964.15" y2="951.75" stroke="#1a1a1a" stroke-width="1"/>
<text text-anchor="end" stroke="#111111" stroke-width="0.4" transform="translate(970.35 954.3) rotate(-90)">34</text>
<rect x="979.25" y="687" width="19.8" height="259.25" fill="#bd6a70" stroke="#1a1a1a" stroke-width="1.25"/>
<line x1="989.15" y1="946.25" x2="989.15" y2="951.75" stroke="#1a1a1a" stroke-width="1"/>
<text text-anchor="end" stroke="#111111" stroke-width="0.4" transform="translate(995.35 954.3) rotate(-90)">35</text>
<rect x="1004.25" y="686.75" width="19.8" height="259.5" fill="#bd6a70" stroke="#1a1a1a" stroke-width="1.25"/>
<line x1="1014.15" y1="946.25" x2="1014.15" y2="951.75" stroke="#1a1a1a" stroke-width="1"/>
<text text-anchor="end" stroke="#111111" stroke-width="0.4" transform="translate(1020.35 954.3) rotate(-90)">36</text>
<rect x="1029.25" y="687.5" width="19.8" height="258.75" fill="#bd6a70" stroke="#1a1a1a" stroke-width="1.25"/>
<line x1="1039.15" y1="946.25" x2="1039.15" y2="951.75" stroke="#1a1a1a" stroke-width="1"/>
<text text-anchor="end" stroke="#111111" stroke-width="0.4" transform="translate(1045.35 954.3) rotate(-90)">37</text>
<rect x="1054.25" y="687" width="19.8" height="259.25" fill="#bd6a70" stroke="#1a1a1a" stroke-width="1.25"/>
<line x1="1064.15" y1="946.25" x2="1064.15" y2="951.75" stroke="#1a1a1a" stroke-width="1"/>
<text text-anchor="end" stroke="#111111" stroke-width="0.4" transform="translate(1070.35 954.3) rotate(-90)">38</text>
<rect x="1079.25" y="687.25" width="19.8" height="259" fill="#bd6a70" stroke="#1a1a1a" stroke-width="1.25"/>
<line x1="1089.15" y1="946.25" x2="1089.15" y2="951.75" stroke="#1a1a1a" stroke-width="1"/>
<text text-anchor="end" stroke="#111111" stroke-width="0.4" transform="translate(1095.35 954.3) rotate(-90)">39</text>
<rect x="1104.25" y="687" width="19.8" height="259.25" fill="#bd6a70" stroke="#1a1a1a" stroke-width="1.25"/>
<line x1="1114.15" y1="946.25" x2="1114.15" y2="951.75" stroke="#1a1a1a" stroke-width="1"/>
<text text-anchor="end" stroke="#111111" stroke-width="0.4" transform="translate(1120.35 954.3) rotate(-90)">40</text>
<rect x="1129.25" y="687" width="19.8" height="259.25" fill="#bd6a70" stroke="#1a1a1a" stroke-width="1.25"/>
<line x1="1139.15" y1="946.25" x2="1139.15" y2="951.75" stroke="#1a1a1a" stroke-width="1"/>
<text text-anchor="end" stroke="#111111" stroke-width="0.4" transform="translate(1145.35 954.3) rotate(-90)">41</text>
<rect x="1154.25" y="687" width="19.8" height="259.25" fill="#bd6a70" stroke="#1a1a1a" stroke-width="1.25"/>
<line x1="1164.15" y1="946.25" x2="1164.15" y2="951.75" stroke="#1a1a1a" stroke-width="1"/>
<text text-anchor="end" stroke="#111111" stroke-width="0.4" transform="translate(1170.35 954.3) rotate(-90)">42</text>
<rect x="1179.25" y="687.25" width="19.8" height="259" fill="#bd6a70" stroke="#1a1a1a" stroke-width="1.25"/>
<line x1="1189.15" y1="946.25" x2="1189.15" y2="951.75" stroke="#1a1a1a" stroke-width="1"/>
<text text-anchor="end" stroke="#111111" stroke-width="0.4" transform="translate(1195.35 954.3) rotate(-90)">43</text>
<rect x="1204.25" y="686.75" width="19.8" height="259.5" fill="#bd6a70" stroke="#1a1a1a" stroke-width="1.25"/>
<line x1="1214.15" y1="946.25" x2="1214.15" y2="951.75" stroke="#1a1a1a" stroke-width="1"/>
<text text-anchor="end" stroke="#111111" stroke-width="0.4" transform="translate(1220.35 954.3) rotate(-90)">44</text>
<rect x="1229.25" y="687" width="19.8" height="259.25" fill="#bd6a70" stroke="#1a1a1a" stroke-width="1.25"/>
<line x1="1239.15" y1="946.25" x2="1239.15" y2="951.75" stroke="#1a1a1a" stroke-width="1"/>
<text text-anchor="end" stroke="#111111" stroke-width="0.4" transform="translate(1245.35 954.3) rotate(-90)">45</text>
<rect x="1254.25" y="686.75" width="19.8" height="259.5" fill="#bd6a70" stroke="#1a1a1a" stroke-width="1.25"/>
<line x1="1264.15" y1="946.25" x2="1264.15" y2="951.75" stroke="#1a1a1a" stroke-width="1"/>
<text text-anchor="end" stroke="#111111" stroke-width="0.4" transform="translate(1270.35 954.3) rotate(-90)">46</text>
<rect x="1279.25" y="687" width="19.8" height="259.25" fill="#bd6a70" stroke="#1a1a1a" stroke-width="1.25"/>
<line x1="1289.15" y1="946.25" x2="1289.15" y2="951.75" stroke="#1a1a1a" stroke-width="1"/>
<text text-anchor="end" stroke="#111111" stroke-width="0.4" transform="translate(1295.35 954.3) rotate(-90)">47</text>
<rect x="1304.25" y="687" width="19.8" height="259.25" fill="#bd6a70" stroke="#1a1a1a" stroke-width="1.25"/>
<line x1="1314.15" y1="946.25" x2="1314.15" y2="951.75" stroke="#1a1a1a" stroke-width="1"/>
<text text-anchor="end" stroke="#111111" stroke-width="0.4" transform="translate(1320.35 954.3) rotate(-90)">48</text>
<rect x="1329.25" y="687" width="19.8" height="259.25" fill="#bd6a70" stroke="#1a1a1a" stroke-width="1.25"/>
<line x1="1339.15" y1="946.25" x2="1339.15" y2="951.75" stroke="#1a1a1a" stroke-width="1"/>
<text text-anchor="end" stroke="#111111" stroke-width="0.4" transform="translate(1345.35 954.3) rotate(-90)">49</text>
<rect x="1354.25" y="854.4" width="19.8" height="91.85" fill="#808282" stroke="#1a1a1a" stroke-width="1.25"/>
<line x1="1364.15" y1="946.25" x2="1364.15" y2="951.75" stroke="#1a1a1a" stroke-width="1"/>
<text text-anchor="end" stroke="#111111" stroke-width="0.4" transform="translate(1370.35 954.3) rotate(-90)">0</text>
<rect x="1379.25" y="767.1" width="19.8" height="179.15" fill="#808282" stroke="#1a1a1a" stroke-width="1.25"/>
<line x1="1389.15" y1="946.25" x2="1389.15" y2="951.75" stroke="#1a1a1a" stroke-width="1"/>
<text text-anchor="end" stroke="#111111" stroke-width="0.4" transform="translate(1395.35 954.3) rotate(-90)">1</text>
<rect x="1404.25" y="757.4" width="19.8" height="188.85" fill="#808282" stroke="#1a1a1a" stroke-width="1.25"/>
<line x1="1414.15" y1="946.25" x2="1414.15" y2="951.75" stroke="#1a1a1a" stroke-width="1"/>
<text text-anchor="end" stroke="#111111" stroke-width="0.4" transform="translate(1420.35 954.3) rotate(-90)">2</text>
<rect x="1429.25" y="756.6" width="19.8" height="189.65" fill="#808282" stroke="#1a1a1a" stroke-width="1.25"/>
<line x1="1439.15" y1="946.25" x2="1439.15" y2="951.75" stroke="#1a1a1a" stroke-width="1"/>
<text text-anchor="end" stroke="#111111" stroke-width="0.4" transform="translate(1445.35 954.3) rotate(-90)">3</text>
<rect x="1454.25" y="758.5" width="19.8" height="187.75" fill="#808282" stroke="#1a1a1a" stroke-width="1.25"/>
<line x1="1464.15" y1="946.25" x2="1464.15" y2="951.75" stroke="#1a1a1a" stroke-width="1"/>
<text text-anchor="end" stroke="#111111" stroke-width="0.4" transform="translate(1470.35 954.3) rotate(-90)">4</text>
<rect x="1479.25" y="759.75" width="19.8" height="186.5" fill="#808282" stroke="#1a1a1a" stroke-width="1.25"/>
<line x1="1489.15" y1="946.25" x2="1489.15" y2="951.75" stroke="#1a1a1a" stroke-width="1"/>
<text text-anchor="end" stroke="#111111" stroke-width="0.4" transform="translate(1495.35 954.3) rotate(-90)">5</text>
<rect x="1504.25" y="760" width="19.8" height="186.25" fill="#808282" stroke="#1a1a1a" stroke-width="1.25"/>
<line x1="1514.15" y1="946.25" x2="1514.15" y2="951.75" stroke="#1a1a1a" stroke-width="1"/>
<text text-anchor="end" stroke="#111111" stroke-width="0.4" transform="translate(1520.35 954.3) rotate(-90)">6</text>
<rect x="1529.25" y="759.75" width="19.8" height="186.5" fill="#808282" stroke="#1a1a1a" stroke-width="1.25"/>
<line x1="1539.15" y1="946.25" x2="1539.15" y2="951.75" stroke="#1a1a1a" stroke-width="1"/>
<text text-anchor="end" stroke="#111111" stroke-width="0.4" transform="translate(1545.35 954.3) rotate(-90)">7</text>
<rect x="1554.25" y="759.5" width="19.8" height="186.75" fill="#808282" stroke="#1a1a1a" stroke-width="1.25"/>
<line x1="1564.15" y1="946.25" x2="1564.15" y2="951.75" stroke="#1a1a1a" stroke-width="1"/>
<text text-anchor="end" stroke="#111111" stroke-width="0.4" transform="translate(1570.35 954.3) rotate(-90)">8</text>
<rect x="1579.25" y="767.5" width="19.8" height="178.75" fill="#808282" stroke="#1a1a1a" stroke-width="1.25"/>
<line x1="1589.15" y1="946.25" x2="1589.15" y2="951.75" stroke="#1a1a1a" stroke-width="1"/>
<text text-anchor="end" stroke="#111111" stroke-width="0.4" transform="translate(1595.35 954.3) rotate(-90)">9</text>
<rect x="1604.25" y="764.9" width="19.8" height="181.35" fill="#808282" stroke="#1a1a1a" stroke-width="1.25"/>
<line x1="1614.15" y1="946.25" x2="1614.15" y2="951.75" stroke="#1a1a1a" stroke-width="1"/>
<text text-anchor="end" stroke="#111111" stroke-width="0.4" transform="translate(1620.35 954.3) rotate(-90)">10</text>
<rect x="1629.25" y="777.75" width="19.8" height="168.5" fill="#808282" stroke="#1a1a1a" stroke-width="1.25"/>
<line x1="1639.15" y1="946.25" x2="1639.15" y2="951.75" stroke="#1a1a1a" stroke-width="1"/>
<text text-anchor="end" stroke="#111111" stroke-width="0.4" transform="translate(1645.35 954.3) rotate(-90)">11</text>
<rect x="1654.25" y="806.25" width="19.8" height="140" fill="#808282" stroke="#1a1a1a" stroke-width="1.25"/>
<line x1="1664.15" y1="946.25" x2="1664.15" y2="951.75" stroke="#1a1a1a" stroke-width="1"/>
<text text-anchor="end" stroke="#111111" stroke-width="0.4" transform="translate(1670.35 954.3) rotate(-90)">12</text>
<rect x="1679.25" y="821.5" width="19.8" height="124.75" fill="#808282" stroke="#1a1a1a" stroke-width="1.25"/>
<line x1="1689.15" y1="946.25" x2="1689.15" y2="951.75" stroke="#1a1a1a" stroke-width="1"/>
<text text-anchor="end" stroke="#111111" stroke-width="0.4" transform="translate(1695.35 954.3) rotate(-90)">13</text>
<rect x="1704.25" y="823.75" width="19.8" height="122.5" fill="#808282" stroke="#1a1a1a" stroke-width="1.25"/>
<line x1="1714.15" y1="946.25" x2="1714.15" y2="951.75" stroke="#1a1a1a" stroke-width="1"/>
<text text-anchor="end" stroke="#111111" stroke-width="0.4" transform="translate(1720.35 954.3) rotate(-90)">14</text>
<rect x="1729.25" y="820.75" width="19.8" height="125.5" fill="#808282" stroke="#1a1a1a" stroke-width="1.25"/>
<line x1="1739.15" y1="946.25" x2="1739.15" y2="951.75" stroke="#1a1a1a" stroke-width="1"/>
<text text-anchor="end" stroke="#111111" stroke-width="0.4" transform="translate(1745.35 954.3) rotate(-90)">15</text>
<rect x="1754.25" y="823.25" width="19.8" height="123" fill="#808282" stroke="#1a1a1a" stroke-width="1.25"/>
<line x1="1764.15" y1="946.25" x2="1764.15" y2="951.75" stroke="#1a1a1a" stroke-width="1"/>
<text text-anchor="end" stroke="#111111" stroke-width="0.4" transform="translate(1770.35 954.3) rotate(-90)">16</text>
<rect x="1779.25" y="827.5" width="19.8" height="118.75" fill="#808282" stroke="#1a1a1a" stroke-width="1.25"/>
<line x1="1789.15" y1="946.25" x2="1789.15" y2="951.75" stroke="#1a1a1a" stroke-width="1"/>
<text text-anchor="end" stroke="#111111" stroke-width="0.4" transform="translate(1795.35 954.3) rotate(-90)">17</text>
<rect x="1804.25" y="823.75" width="19.8" height="122.5" fill="#808282" stroke="#1a1a1a" stroke-width="1.25"/>
<line x1="1814.15" y1="946.25" x2="1814.15" y2="951.75" stroke="#1a1a1a" stroke-width="1"/>
<text text-anchor="end" stroke="#111111" stroke-width="0.4" transform="translate(1820.35 954.3) rotate(-90)">18</text>
<rect x="1829.25" y="820.5" width="19.8" height="125.75" fill="#808282" stroke="#1a1a1a" stroke-width="1.25"/>
<line x1="1839.15" y1="946.25" x2="1839.15" y2="951.75" stroke="#1a1a1a" stroke-width="1"/>
<text text-anchor="end" stroke="#111111" stroke-width="0.4" transform="translate(1845.35 954.3) rotate(-90)">19</text>
<rect x="1854.25" y="824" width="19.8" height="122.25" fill="#808282" stroke="#1a1a1a" stroke-width="1.25"/>
<line x1="1864.15" y1="946.25" x2="1864.15" y2="951.75" stroke="#1a1a1a" stroke-width="1"/>
<text text-anchor="end" stroke="#111111" stroke-width="0.4" transform="translate(1870.35 954.3) rotate(-90)">20</text>
<rect x="1879.25" y="817.5" width="19.8" height="128.75" fill="#808282" stroke="#1a1a1a" stroke-width="1.25"/>
<line x1="1889.15" y1="946.25" x2="1889.15" y2="951.75" stroke="#1a1a1a" stroke-width="1"/>
<text text-anchor="end" stroke="#111111" stroke-width="0.4" transform="translate(1895.35 954.3) rotate(-90)">21</text>
<rect x="1904.25" y="816.25" width="19.8" height="130" fill="#808282" stroke="#1a1a1a" stroke-width="1.25"/>
<line x1="1914.15" y1="946.25" x2="1914.15" y2="951.75" stroke="#1a1a1a" stroke-width="1"/>
<text text-anchor="end" stroke="#111111" stroke-width="0.4" transform="translate(1920.35 954.3) rotate(-90)">22</text>
<rect x="1929.25" y="822.25" width="19.8" height="124" fill="#808282" stroke="#1a1a1a" stroke-width="1.25"/>
<line x1="1939.15" y1="946.25" x2="1939.15" y2="951.75" stroke="#1a1a1a" stroke-width="1"/>
<text text-anchor="end" stroke="#111111" stroke-width="0.4" transform="translate(1945.35 954.3) rotate(-90)">23</text>
<rect x="1954.25" y="826.25" width="19.8" height="120" fill="#808282" stroke="#1a1a1a" stroke-width="1.25"/>
<line x1="1964.15" y1="946.25" x2="1964.15" y2="951.75" stroke="#1a1a1a" stroke-width="1"/>
<text text-anchor="end" stroke="#111111" stroke-width="0.4" transform="translate(1970.35 954.3) rotate(-90)">24</text>
<rect x="1979.25" y="823.75" width="19.8" height="122.5" fill="#808282" stroke="#1a1a1a" stroke-width="1.25"/>
<line x1="1989.15" y1="946.25" x2="1989.15" y2="951.75" stroke="#1a1a1a" stroke-width="1"/>
<text text-anchor="end" stroke="#111111" stroke-width="0.4" transform="translate(1995.35 954.3) rotate(-90)">25</text>
<rect x="2004.25" y="820.25" width="19.8" height="126" fill="#808282" stroke="#1a1a1a" stroke-width="1.25"/>
<line x1="2014.15" y1="946.25" x2="2014.15" y2="951.75" stroke="#1a1a1a" stroke-width="1"/>
<text text-anchor="end" stroke="#111111" stroke-width="0.4" transform="translate(2020.35 954.3) rotate(-90)">26</text>
<rect x="2029.25" y="821" width="19.8" height="125.25" fill="#808282" stroke="#1a1a1a" stroke-width="1.25"/>
<line x1="2039.15" y1="946.25" x2="2039.15" y2="951.75" stroke="#1a1a1a" stroke-width="1"/>
<text text-anchor="end" stroke="#111111" stroke-width="0.4" transform="translate(2045.35 954.3) rotate(-90)">27</text>
<rect x="2054.25" y="823.5" width="19.8" height="122.75" fill="#808282" stroke="#1a1a1a" stroke-width="1.25"/>
<line x1="2064.15" y1="946.25" x2="2064.15" y2="951.75" stroke="#1a1a1a" stroke-width="1"/>
<text text-anchor="end" stroke="#111111" stroke-width="0.4" transform="translate(2070.35 954.3) rotate(-90)">28</text>
<rect x="2079.25" y="825.25" width="19.8" height="121" fill="#808282" stroke="#1a1a1a" stroke-width="1.25"/>
<line x1="2089.15" y1="946.25" x2="2089.15" y2="951.75" stroke="#1a1a1a" stroke-width="1"/>
<text text-anchor="end" stroke="#111111" stroke-width="0.4" transform="translate(2095.35 954.3) rotate(-90)">29</text>
<rect x="2104.25" y="822.25" width="19.8" height="124" fill="#808282" stroke="#1a1a1a" stroke-width="1.25"/>
<line x1="2114.15" y1="946.25" x2="2114.15" y2="951.75" stroke="#1a1a1a" stroke-width="1"/>
<text text-anchor="end" stroke="#111111" stroke-width="0.4" transform="translate(2120.35 954.3) rotate(-90)">30</text>
<rect x="2129.25" y="825.5" width="19.8" height="120.75" fill="#808282" stroke="#1a1a1a" stroke-width="1.25"/>
<line x1="2139.15" y1="946.25" x2="2139.15" y2="951.75" stroke="#1a1a1a" stroke-width="1"/>
<text text-anchor="end" stroke="#111111" stroke-width="0.4" transform="translate(2145.35 954.3) rotate(-90)">31</text>
<rect x="101.25" y="639.5" width="2050" height="306.75" fill="none" stroke="#1a1a1a" stroke-width="1.1"/>
<text x="96.3" y="642.1" text-anchor="end" stroke="#111111" stroke-width="0.4">1.0</text>
<text x="96.3" y="702.6" text-anchor="end" stroke="#111111" stroke-width="0.4">0.9</text>
<text x="96.3" y="758.3" text-anchor="end" stroke="#111111" stroke-width="0.4">0.8</text>
<text x="96.3" y="814" text-anchor="end" stroke="#111111" stroke-width="0.4">0.7</text>
<text x="96.3" y="869.7" text-anchor="end" stroke="#111111" stroke-width="0.4">0.6</text>
<text x="96.3" y="925.4" text-anchor="end" stroke="#111111" stroke-width="0.4">0.5</text>
<text text-anchor="middle" stroke="#111111" stroke-width="0.4" transform="translate(25.7 802.5) rotate(-90)">Avg. AUROC,</text>
<text text-anchor="middle" stroke="#111111" stroke-width="0.4" transform="translate(51.3 799.5) rotate(-90)"><tspan font-style="italic">BRCA1</tspan> 5-fold cross-validation</text>
<line x1="103.3" y1="988.2" x2="1346.3" y2="988.2" stroke="#222" stroke-width="1.2"/>
<line x1="1355.5" y1="988.2" x2="2144.3" y2="988.2" stroke="#222" stroke-width="1.2"/>
<text x="730.4" y="1007.5" text-anchor="middle" stroke="#111111" stroke-width="0.4">Evo 2 40B block index</text>
<text x="1745" y="1007.5" text-anchor="middle" stroke="#111111" stroke-width="0.4">Evo 1 block index</text>
</g>
<g id="panel-e">
<text x="3.3" y="1062" font-size="33.2" stroke="#111111" stroke-width="0" font-weight="bold">e</text>
<line x1="98.25" y1="1140.58" x2="375.5" y2="1140.58" stroke="#adadad" stroke-width="1.1"/>
<line x1="98.25" y1="1199.91" x2="375.5" y2="1199.91" stroke="#adadad" stroke-width="1.1"/>
<line x1="98.25" y1="1259.24" x2="375.5" y2="1259.24" stroke="#adadad" stroke-width="1.1"/>
<line x1="98.25" y1="1318.57" x2="375.5" y2="1318.57" stroke="#adadad" stroke-width="1.1"/>
<line x1="98.25" y1="1377.9" x2="375.5" y2="1377.9" stroke="#adadad" stroke-width="1.1"/>
<rect x="101.3" y="1125.75" width="22" height="281.75" fill="#bd6a70" stroke="#1a1a1a" stroke-width="1.25"/>
<line x1="112.3" y1="1407.5" x2="112.3" y2="1411.5" stroke="#1a1a1a" stroke-width="1"/>
<text text-anchor="end" stroke="#111111" stroke-width="0.4" transform="translate(121.3 1421.5) rotate(-45)">16</text>
<rect x="129" y="1121" width="22" height="286.5" fill="#bd6a70" stroke="#1a1a1a" stroke-width="1.25"/>
<line x1="140" y1="1407.5" x2="140" y2="1411.5" stroke="#1a1a1a" stroke-width="1"/>
<text text-anchor="end" stroke="#111111" stroke-width="0.4" transform="translate(149 1421.5) rotate(-45)">32</text>
<rect x="156.7" y="1117.25" width="22" height="290.25" fill="#bd6a70" stroke="#1a1a1a" stroke-width="1.25"/>
<line x1="167.7" y1="1407.5" x2="167.7" y2="1411.5" stroke="#1a1a1a" stroke-width="1"/>
<text text-anchor="end" stroke="#111111" stroke-width="0.4" transform="translate(176.7 1421.5) rotate(-45)">64</text>
<rect x="184.4" y="1115.5" width="22" height="292" fill="#bd6a70" stroke="#1a1a1a" stroke-width="1.25"/>
<line x1="195.4" y1="1407.5" x2="195.4" y2="1411.5" stroke="#1a1a1a" stroke-width="1"/>
<text text-anchor="end" stroke="#111111" stroke-width="0.4" transform="translate(204.4 1421.5) rotate(-45)">128</text>
<rect x="212.1" y="1117" width="22" height="290.5" fill="#bd6a70" stroke="#1a1a1a" stroke-width="1.25"/>
<line x1="223.1" y1="1407.5" x2="223.1" y2="1411.5" stroke="#1a1a1a" stroke-width="1"/>
<text text-anchor="end" stroke="#111111" stroke-width="0.4" transform="translate(232.1 1421.5) rotate(-45)">256</text>
<rect x="239.8" y="1118.25" width="22" height="289.25" fill="#bd6a70" stroke="#1a1a1a" stroke-width="1.25"/>
<line x1="250.8" y1="1407.5" x2="250.8" y2="1411.5" stroke="#1a1a1a" stroke-width="1"/>
<text text-anchor="end" stroke="#111111" stroke-width="0.4" transform="translate(259.8 1421.5) rotate(-45)">512</text>
<rect x="267.5" y="1117.5" width="22" height="290" fill="#bd6a70" stroke="#1a1a1a" stroke-width="1.25"/>
<line x1="278.5" y1="1407.5" x2="278.5" y2="1411.5" stroke="#1a1a1a" stroke-width="1"/>
<text text-anchor="end" stroke="#111111" stroke-width="0.4" transform="translate(287.5 1421.5) rotate(-45)">1024</text>
<rect x="295.2" y="1118.75" width="22" height="288.75" fill="#bd6a70" stroke="#1a1a1a" stroke-width="1.25"/>
<line x1="306.2" y1="1407.5" x2="306.2" y2="1411.5" stroke="#1a1a1a" stroke-width="1"/>
<text text-anchor="end" stroke="#111111" stroke-width="0.4" transform="translate(315.2 1421.5) rotate(-45)">2048</text>
<rect x="322.9" y="1121.5" width="22" height="286" fill="#bd6a70" stroke="#1a1a1a" stroke-width="1.25"/>
<line x1="333.9" y1="1407.5" x2="333.9" y2="1411.5" stroke="#1a1a1a" stroke-width="1"/>
<text text-anchor="end" stroke="#111111" stroke-width="0.4" transform="translate(342.9 1421.5) rotate(-45)">4098</text>
<rect x="350.6" y="1122" width="22" height="285.5" fill="#bd6a70" stroke="#1a1a1a" stroke-width="1.25"/>
<line x1="361.6" y1="1407.5" x2="361.6" y2="1411.5" stroke="#1a1a1a" stroke-width="1"/>
<text text-anchor="end" stroke="#111111" stroke-width="0.4" transform="translate(370.6 1421.5) rotate(-45)">8192</text>
<rect x="98.25" y="1081.25" width="277.25" height="326.25" fill="none" stroke="#1a1a1a" stroke-width="1.1"/>
<line x1="95.25" y1="1081.25" x2="98.25" y2="1081.25" stroke="#1a1a1a" stroke-width="1"/>
<text x="93" y="1089.65" text-anchor="end" stroke="#111111" stroke-width="0.4">1.0</text>
<line x1="95.25" y1="1140.58" x2="98.25" y2="1140.58" stroke="#1a1a1a" stroke-width="1"/>
<text x="93" y="1147.98" text-anchor="end" stroke="#111111" stroke-width="0.4">0.9</text>
<line x1="95.25" y1="1199.91" x2="98.25" y2="1199.91" stroke="#1a1a1a" stroke-width="1"/>
<text x="93" y="1207.31" text-anchor="end" stroke="#111111" stroke-width="0.4">0.8</text>
<line x1="95.25" y1="1259.24" x2="98.25" y2="1259.24" stroke="#1a1a1a" stroke-width="1"/>
<text x="93" y="1266.64" text-anchor="end" stroke="#111111" stroke-width="0.4">0.7</text>
<line x1="95.25" y1="1318.57" x2="98.25" y2="1318.57" stroke="#1a1a1a" stroke-width="1"/>
<text x="93" y="1325.97" text-anchor="end" stroke="#111111" stroke-width="0.4">0.6</text>
<line x1="95.25" y1="1377.9" x2="98.25" y2="1377.9" stroke="#1a1a1a" stroke-width="1"/>
<text x="93" y="1385.3" text-anchor="end" stroke="#111111" stroke-width="0.4">0.5</text>
<text text-anchor="middle" stroke="#111111" stroke-width="0.4" transform="translate(26.2 1259) rotate(-90)">Average AUROC,</text>
<text text-anchor="middle" stroke="#111111" stroke-width="0.4" transform="translate(51.8 1255.5) rotate(-90)"><tspan font-style="italic">BRCA1</tspan> 5-fold cross-validation</text>
<text x="254.2" y="1470.6" text-anchor="middle" stroke="#111111" stroke-width="0.4">Pooling function window size (nt)</text>
</g>
<g id="panel-f">
<text x="434" y="1062" font-size="33.2" stroke="#111111" stroke-width="0" font-weight="bold">f</text>
<text x="481.2" y="1059.2" stroke="#111111" stroke-width="0.4">DART-Eval benchmarks</text>
<line x1="480" y1="1080.8" x2="860.6" y2="1080.8" stroke="#111" stroke-width="1.8"/>
<line x1="905.4" y1="1080.8" x2="1273.3" y2="1080.8" stroke="#111" stroke-width="1.8"/>
<line x1="1304.5" y1="1080.8" x2="2152.5" y2="1080.8" stroke="#111" stroke-width="1.8"/>
<text x="477" y="1109.5" stroke="#111111" stroke-width="0.4">Task 1:</text>
<text x="545" y="1109.5" stroke="#111111" stroke-width="0.4">Discriminating regulatory DNA</text>
<text x="545" y="1134.5" stroke="#111111" stroke-width="0.4">sequences</text>
<text x="906.2" y="1108.3" stroke="#111111" stroke-width="0.4">Task 2:</text>
<text x="979.5" y="1109.3" stroke="#111111" stroke-width="0.4">Transcription factor motif</text>
<text x="979.5" y="1134.5" stroke="#111111" stroke-width="0.4">sensitivity</text>
<text x="1305.5" y="1108.3" stroke="#111111" stroke-width="0.4">Task 5:</text>
<text x="1379.2" y="1109.3" stroke="#111111" stroke-width="0.4">Variant effect prediction</text>
<line x1="623.5" y1="1149.25" x2="623.5" y2="1378" stroke="#adadad" stroke-width="1.1"/>
<line x1="678.25" y1="1149.25" x2="678.25" y2="1378" stroke="#adadad" stroke-width="1.1"/>
<line x1="733" y1="1149.25" x2="733" y2="1378" stroke="#adadad" stroke-width="1.1"/>
<line x1="787.75" y1="1149.25" x2="787.75" y2="1378" stroke="#adadad" stroke-width="1.1"/>
<line x1="842.25" y1="1149.25" x2="842.25" y2="1378" stroke="#adadad" stroke-width="1.1"/>
<rect x="569" y="1156.5" width="267" height="20.75" fill="#74b4d8" stroke="#2e2e2e" stroke-width="1.2"/>
<line x1="567" y1="1166.88" x2="569" y2="1166.88" stroke="#1a1a1a" stroke-width="1"/>
<text x="562.4" y="1173.75" text-anchor="end" stroke="#111111" stroke-width="0.4">Evo 2 40B</text>
<rect x="569" y="1185" width="265" height="20.5" fill="#74b4d8" stroke="#2e2e2e" stroke-width="1.2"/>
<line x1="567" y1="1195.25" x2="569" y2="1195.25" stroke="#1a1a1a" stroke-width="1"/>
<text x="562.4" y="1200.9" text-anchor="end" stroke="#111111" stroke-width="0.4">Evo 2 7B</text>
<rect x="569" y="1212.5" width="265.25" height="20.75" fill="#b4b4b4" stroke="#2e2e2e" stroke-width="1.2"/>
<line x1="567" y1="1222.88" x2="569" y2="1222.88" stroke="#1a1a1a" stroke-width="1"/>
<text x="562.4" y="1228.05" text-anchor="end" stroke="#111111" stroke-width="0.4">Caduceus</text>
<rect x="569" y="1240.5" width="259" height="20.75" fill="#b4b4b4" stroke="#2e2e2e" stroke-width="1.2"/>
<line x1="567" y1="1250.88" x2="569" y2="1250.88" stroke="#1a1a1a" stroke-width="1"/>
<text x="562.4" y="1255.2" text-anchor="end" stroke="#111111" stroke-width="0.4">GENA-LM</text>
<rect x="569" y="1268.5" width="243.5" height="20.75" fill="#b4b4b4" stroke="#2e2e2e" stroke-width="1.2"/>
<line x1="567" y1="1278.88" x2="569" y2="1278.88" stroke="#1a1a1a" stroke-width="1"/>
<text x="562.4" y="1282.35" text-anchor="end" stroke="#111111" stroke-width="0.4">HyenaDNA</text>
<rect x="569" y="1295.5" width="239.5" height="20.75" fill="#b4b4b4" stroke="#2e2e2e" stroke-width="1.2"/>
<line x1="567" y1="1305.88" x2="569" y2="1305.88" stroke="#1a1a1a" stroke-width="1"/>
<text x="562.4" y="1309.5" text-anchor="end" stroke="#111111" stroke-width="0.4">DNABERT-2</text>
<rect x="569" y="1323.5" width="236" height="20.75" fill="#b4b4b4" stroke="#2e2e2e" stroke-width="1.2"/>
<line x1="567" y1="1333.88" x2="569" y2="1333.88" stroke="#1a1a1a" stroke-width="1"/>
<text x="562.4" y="1336.65" text-anchor="end" stroke="#111111" stroke-width="0.4">Mistral-DNA</text>
<rect x="569" y="1350.5" width="203.75" height="20.75" fill="#b4b4b4" stroke="#2e2e2e" stroke-width="1.2"/>
<line x1="567" y1="1360.88" x2="569" y2="1360.88" stroke="#1a1a1a" stroke-width="1"/>
<text x="562.4" y="1363.8" text-anchor="end" stroke="#111111" stroke-width="0.4">NT 500M</text>
<rect x="569" y="1149.25" width="287.25" height="228.75" fill="none" stroke="#1a1a1a" stroke-width="1.1"/>
<text x="570" y="1396.3" text-anchor="middle" stroke="#111111" stroke-width="0.4">0.0</text>
<text x="624.65" y="1396.3" text-anchor="middle" stroke="#111111" stroke-width="0.4">0.2</text>
<text x="679.3" y="1396.3" text-anchor="middle" stroke="#111111" stroke-width="0.4">0.4</text>
<text x="733.95" y="1396.3" text-anchor="middle" stroke="#111111" stroke-width="0.4">0.6</text>
<text x="784.6" y="1396.3" text-anchor="middle" stroke="#111111" stroke-width="0.4">0.8</text>
<text x="840.25" y="1396.3" text-anchor="middle" stroke="#111111" stroke-width="0.4">1.0</text>
<text x="697.5" y="1425.5" text-anchor="middle" stroke="#111111" stroke-width="0.4">Zero-shot accuracy</text>
<line x1="1029.75" y1="1149.25" x2="1029.75" y2="1343" stroke="#adadad" stroke-width="1.1"/>
<line x1="1069.25" y1="1149.25" x2="1069.25" y2="1343" stroke="#adadad" stroke-width="1.1"/>
<line x1="1108.5" y1="1149.25" x2="1108.5" y2="1343" stroke="#adadad" stroke-width="1.1"/>
<line x1="1147.75" y1="1149.25" x2="1147.75" y2="1343" stroke="#adadad" stroke-width="1.1"/>
<line x1="1187.25" y1="1149.25" x2="1187.25" y2="1343" stroke="#adadad" stroke-width="1.1"/>
<line x1="1226.5" y1="1149.25" x2="1226.5" y2="1343" stroke="#adadad" stroke-width="1.1"/>
<line x1="1266.25" y1="1149.25" x2="1266.25" y2="1343" stroke="#adadad" stroke-width="1.1"/>
<rect x="990.5" y="1158.5" width="249.25" height="18.5" fill="#74b4d8" stroke="#2e2e2e" stroke-width="1.2"/>
<line x1="987.5" y1="1167.75" x2="990.5" y2="1167.75" stroke="#1a1a1a" stroke-width="1"/>
<text x="983.4" y="1175" text-anchor="end" stroke="#111111" stroke-width="0.4">Evo 2 40B</text>
<line x1="1234.5" y1="1167.75" x2="1245.25" y2="1167.75" stroke="#222" stroke-width="1.2"/>
<line x1="1234.5" y1="1165.35" x2="1234.5" y2="1170.15" stroke="#222" stroke-width="1.2"/>
<line x1="1245.25" y1="1165.35" x2="1245.25" y2="1170.15" stroke="#222" stroke-width="1.2"/>
<rect x="990.5" y="1190" width="248.75" height="18.5" fill="#b4b4b4" stroke="#2e2e2e" stroke-width="1.2"/>
<line x1="987.5" y1="1199.25" x2="990.5" y2="1199.25" stroke="#1a1a1a" stroke-width="1"/>
<text x="983.4" y="1206.5" text-anchor="end" stroke="#111111" stroke-width="0.4">Evo 2 7B</text>
<line x1="1234" y1="1199.25" x2="1244.5" y2="1199.25" stroke="#222" stroke-width="1.2"/>
<line x1="1234" y1="1196.85" x2="1234" y2="1201.65" stroke="#222" stroke-width="1.2"/>
<line x1="1244.5" y1="1196.85" x2="1244.5" y2="1201.65" stroke="#222" stroke-width="1.2"/>
<rect x="990.5" y="1221.5" width="238.25" height="18.5" fill="#b4b4b4" stroke="#2e2e2e" stroke-width="1.2"/>
<line x1="987.5" y1="1230.75" x2="990.5" y2="1230.75" stroke="#1a1a1a" stroke-width="1"/>
<text x="983.4" y="1238" text-anchor="end" stroke="#111111" stroke-width="0.4">HyenaDNA</text>
<line x1="1223.25" y1="1230.75" x2="1234.25" y2="1230.75" stroke="#222" stroke-width="1.2"/>
<line x1="1223.25" y1="1228.35" x2="1223.25" y2="1233.15" stroke="#222" stroke-width="1.2"/>
<line x1="1234.25" y1="1228.35" x2="1234.25" y2="1233.15" stroke="#222" stroke-width="1.2"/>
<rect x="990.5" y="1253" width="235.5" height="18.5" fill="#b4b4b4" stroke="#2e2e2e" stroke-width="1.2"/>
<line x1="987.5" y1="1262.25" x2="990.5" y2="1262.25" stroke="#1a1a1a" stroke-width="1"/>
<text x="983.4" y="1269.5" text-anchor="end" stroke="#111111" stroke-width="0.4">GENA-LM</text>
<line x1="1221.75" y1="1262.25" x2="1230.25" y2="1262.25" stroke="#222" stroke-width="1.2"/>
<line x1="1221.75" y1="1259.85" x2="1221.75" y2="1264.65" stroke="#222" stroke-width="1.2"/>
<line x1="1230.25" y1="1259.85" x2="1230.25" y2="1264.65" stroke="#222" stroke-width="1.2"/>
<rect x="990.5" y="1284.5" width="230" height="18.5" fill="#b4b4b4" stroke="#2e2e2e" stroke-width="1.2"/>
<line x1="987.5" y1="1293.75" x2="990.5" y2="1293.75" stroke="#1a1a1a" stroke-width="1"/>
<text x="983.4" y="1301" text-anchor="end" stroke="#111111" stroke-width="0.4">DNABERT-2</text>
<line x1="1217" y1="1293.75" x2="1224" y2="1293.75" stroke="#222" stroke-width="1.2"/>
<line x1="1217" y1="1291.35" x2="1217" y2="1296.15" stroke="#222" stroke-width="1.2"/>
<line x1="1224" y1="1291.35" x2="1224" y2="1296.15" stroke="#222" stroke-width="1.2"/>
<rect x="990.5" y="1316" width="221.5" height="18.5" fill="#b4b4b4" stroke="#2e2e2e" stroke-width="1.2"/>
<line x1="987.5" y1="1325.25" x2="990.5" y2="1325.25" stroke="#1a1a1a" stroke-width="1"/>
<text x="983.4" y="1332.5" text-anchor="end" stroke="#111111" stroke-width="0.4">NT 500M</text>
<line x1="1208.5" y1="1325.25" x2="1215" y2="1325.25" stroke="#222" stroke-width="1.2"/>
<line x1="1208.5" y1="1322.85" x2="1208.5" y2="1327.65" stroke="#222" stroke-width="1.2"/>
<line x1="1215" y1="1322.85" x2="1215" y2="1327.65" stroke="#222" stroke-width="1.2"/>
<rect x="990.5" y="1149.25" width="286.5" height="193.75" fill="none" stroke="#1a1a1a" stroke-width="1.1"/>
<text x="988.3" y="1361.8" text-anchor="middle" stroke="#111111" stroke-width="0.4">0.0</text>
<text x="1068.3" y="1361.8" text-anchor="middle" stroke="#111111" stroke-width="0.4">0.2</text>
<text x="1148" y="1361.8" text-anchor="middle" stroke="#111111" stroke-width="0.4">0.4</text>
<text x="1226.9" y="1361.8" text-anchor="middle" stroke="#111111" stroke-width="0.4">0.6</text>
<text x="1126.8" y="1388.8" text-anchor="middle" stroke="#111111" stroke-width="0.4">Mean zero-shot accuracy</text>
<text x="1560" y="1149.3" text-anchor="middle" stroke="#111111" stroke-width="0.4">African caQTLs</text>
<line x1="1446.75" y1="1156.5" x2="1446.75" y2="1410.5" stroke="#adadad" stroke-width="1.1"/>
<line x1="1490.5" y1="1156.5" x2="1490.5" y2="1410.5" stroke="#adadad" stroke-width="1.1"/>
<line x1="1534.25" y1="1156.5" x2="1534.25" y2="1410.5" stroke="#adadad" stroke-width="1.1"/>
<line x1="1578.25" y1="1156.5" x2="1578.25" y2="1410.5" stroke="#adadad" stroke-width="1.1"/>
<line x1="1622" y1="1156.5" x2="1622" y2="1410.5" stroke="#adadad" stroke-width="1.1"/>
<line x1="1666" y1="1156.5" x2="1666" y2="1410.5" stroke="#adadad" stroke-width="1.1"/>
<rect x="1425" y="1168.25" width="185" height="21" fill="#5b6e80" stroke="#2e2e2e" stroke-width="1.2"/>
<path d="M1425 1171.65L1428.4 1168.25M1427.75 1189.25L1448.75 1168.25M1448.1 1189.25L1469.1 1168.25M1468.45 1189.25L1489.45 1168.25M1488.8 1189.25L1509.8 1168.25M1509.15 1189.25L1530.15 1168.25M1529.5 1189.25L1550.5 1168.25M1549.85 1189.25L1570.85 1168.25M1570.2 1189.25L1591.2 1168.25M1590.55 1189.25L1610 1169.8" stroke="#0c0c0c" stroke-width="1.25" fill="none"/>
<line x1="1422" y1="1178.75" x2="1425" y2="1178.75" stroke="#1a1a1a" stroke-width="1"/>
<text x="1417" y="1184.25" text-anchor="end" stroke="#111111" stroke-width="0.4">ChromBPNet</text>
<rect x="1425" y="1194.75" width="101.75" height="20.75" fill="#74b4d8" stroke="#2e2e2e" stroke-width="1.2"/>
<line x1="1422" y1="1205.12" x2="1425" y2="1205.12" stroke="#1a1a1a" stroke-width="1"/>
<text x="1417" y="1213.75" text-anchor="end" stroke="#111111" stroke-width="0.4">Evo 2 40B</text>
<rect x="1425" y="1221" width="79.5" height="20.5" fill="#74b4d8" stroke="#2e2e2e" stroke-width="1.2"/>
<line x1="1422" y1="1231.25" x2="1425" y2="1231.25" stroke="#1a1a1a" stroke-width="1"/>
<text x="1417" y="1242.5" text-anchor="end" stroke="#111111" stroke-width="0.4">Evo 2 7B</text>
<rect x="1425" y="1247" width="74.25" height="21" fill="#b4b4b4" stroke="#2e2e2e" stroke-width="1.2"/>
<line x1="1422" y1="1257.5" x2="1425" y2="1257.5" stroke="#1a1a1a" stroke-width="1"/>
<text x="1417" y="1266.25" text-anchor="end" stroke="#111111" stroke-width="0.4">Mistral-DNA</text>
<rect x="1425" y="1273.25" width="74" height="20.75" fill="#b4b4b4" stroke="#2e2e2e" stroke-width="1.2"/>
<line x1="1422" y1="1283.62" x2="1425" y2="1283.62" stroke="#1a1a1a" stroke-width="1"/>
<text x="1417" y="1292" text-anchor="end" stroke="#111111" stroke-width="0.4">Caduceus</text>
<rect x="1425" y="1299.25" width="74" height="21" fill="#b4b4b4" stroke="#2e2e2e" stroke-width="1.2"/>
<line x1="1422" y1="1309.75" x2="1425" y2="1309.75" stroke="#1a1a1a" stroke-width="1"/>
<text x="1417" y="1316.8" text-anchor="end" stroke="#111111" stroke-width="0.4">NT 500M</text>
<rect x="1425" y="1325.5" width="72.25" height="21" fill="#b4b4b4" stroke="#2e2e2e" stroke-width="1.2"/>
<line x1="1422" y1="1336" x2="1425" y2="1336" stroke="#1a1a1a" stroke-width="1"/>
<text x="1417" y="1340.8" text-anchor="end" stroke="#111111" stroke-width="0.4">HyenaDNA</text>
<rect x="1425" y="1352" width="69.25" height="20.75" fill="#b4b4b4" stroke="#2e2e2e" stroke-width="1.2"/>
<line x1="1422" y1="1362.38" x2="1425" y2="1362.38" stroke="#1a1a1a" stroke-width="1"/>
<text x="1417" y="1368.75" text-anchor="end" stroke="#111111" stroke-width="0.4">GENA-LM</text>
<rect x="1425" y="1378" width="57" height="21" fill="#b4b4b4" stroke="#2e2e2e" stroke-width="1.2"/>
<line x1="1422" y1="1388.5" x2="1425" y2="1388.5" stroke="#1a1a1a" stroke-width="1"/>
<text x="1417" y="1395.5" text-anchor="end" stroke="#111111" stroke-width="0.4">DNABERT-2</text>
<rect x="1425" y="1156.5" width="284.5" height="254" fill="none" stroke="#1a1a1a" stroke-width="1.1"/>
<line x1="1709.5" y1="1153" x2="1709.5" y2="1156.5" stroke="#1a1a1a" stroke-width="1.1"/>
<text x="1448" y="1432.5" text-anchor="middle" stroke="#111111" stroke-width="0.4">0.4</text>
<text x="1531.3" y="1432.5" text-anchor="middle" stroke="#111111" stroke-width="0.4">0.6</text>
<text x="1623" y="1432.5" text-anchor="middle" stroke="#111111" stroke-width="0.4">0.8</text>
<text x="1708.8" y="1432.5" text-anchor="middle" stroke="#111111" stroke-width="0.4">1.0</text>
<text x="1574.3" y="1458.3" text-anchor="middle" stroke="#111111" stroke-width="0.4">AUROC</text>
<text x="1992.3" y="1149.3" text-anchor="middle" stroke="#111111" stroke-width="0.4">Yoruban dsQTLs</text>
<line x1="1880.25" y1="1155.5" x2="1880.25" y2="1409.25" stroke="#adadad" stroke-width="1.1"/>
<line x1="1924" y1="1155.5" x2="1924" y2="1409.25" stroke="#adadad" stroke-width="1.1"/>
<line x1="1968" y1="1155.5" x2="1968" y2="1409.25" stroke="#adadad" stroke-width="1.1"/>
<line x1="2011.25" y1="1155.5" x2="2011.25" y2="1409.25" stroke="#adadad" stroke-width="1.1"/>
<line x1="2055.25" y1="1155.5" x2="2055.25" y2="1409.25" stroke="#adadad" stroke-width="1.1"/>
<line x1="2099" y1="1155.5" x2="2099" y2="1409.25" stroke="#adadad" stroke-width="1.1"/>
<rect x="1858.25" y="1166.75" width="237.5" height="21" fill="#5b6e80" stroke="#2e2e2e" stroke-width="1.2"/>
<path d="M1858.25 1183.5L1875 1166.75M1874.35 1187.75L1895.35 1166.75M1894.7 1187.75L1915.7 1166.75M1915.05 1187.75L1936.05 1166.75M1935.4 1187.75L1956.4 1166.75M1955.75 1187.75L1976.75 1166.75M1976.1 1187.75L1997.1 1166.75M1996.45 1187.75L2017.45 1166.75M2016.8 1187.75L2037.8 1166.75M2037.15 1187.75L2058.15 1166.75M2057.5 1187.75L2078.5 1166.75M2077.85 1187.75L2095.75 1169.85" stroke="#0c0c0c" stroke-width="1.25" fill="none"/>
<line x1="1855.25" y1="1177.25" x2="1858.25" y2="1177.25" stroke="#1a1a1a" stroke-width="1"/>
<text x="1850.2" y="1182.5" text-anchor="end" stroke="#111111" stroke-width="0.4">ChromBPNet</text>
<rect x="1858.25" y="1193.25" width="136.75" height="20.75" fill="#74b4d8" stroke="#2e2e2e" stroke-width="1.2"/>
<line x1="1855.25" y1="1203.62" x2="1858.25" y2="1203.62" stroke="#1a1a1a" stroke-width="1"/>
<text x="1850.2" y="1208" text-anchor="end" stroke="#111111" stroke-width="0.4">Evo 2 40B</text>
<rect x="1858.25" y="1219.25" width="129" height="21" fill="#74b4d8" stroke="#2e2e2e" stroke-width="1.2"/>
<line x1="1855.25" y1="1229.75" x2="1858.25" y2="1229.75" stroke="#1a1a1a" stroke-width="1"/>
<text x="1850.2" y="1235.5" text-anchor="end" stroke="#111111" stroke-width="0.4">Evo 2 7B</text>
<rect x="1858.25" y="1245.5" width="115.25" height="21" fill="#b4b4b4" stroke="#2e2e2e" stroke-width="1.2"/>
<line x1="1855.25" y1="1256" x2="1858.25" y2="1256" stroke="#1a1a1a" stroke-width="1"/>
<text x="1850.2" y="1261.25" text-anchor="end" stroke="#111111" stroke-width="0.4">NT 500M</text>
<rect x="1858.25" y="1271.75" width="72.25" height="20.75" fill="#b4b4b4" stroke="#2e2e2e" stroke-width="1.2"/>
<line x1="1855.25" y1="1282.12" x2="1858.25" y2="1282.12" stroke="#1a1a1a" stroke-width="1"/>
<text x="1850.2" y="1286.75" text-anchor="end" stroke="#111111" stroke-width="0.4">HyenaDNA</text>
<rect x="1858.25" y="1298" width="69.25" height="21" fill="#b4b4b4" stroke="#2e2e2e" stroke-width="1.2"/>
<line x1="1855.25" y1="1308.5" x2="1858.25" y2="1308.5" stroke="#1a1a1a" stroke-width="1"/>
<text x="1850.2" y="1312.5" text-anchor="end" stroke="#111111" stroke-width="0.4">Caduceus</text>
<rect x="1858.25" y="1324" width="68" height="21" fill="#b4b4b4" stroke="#2e2e2e" stroke-width="1.2"/>
<line x1="1855.25" y1="1334.5" x2="1858.25" y2="1334.5" stroke="#1a1a1a" stroke-width="1"/>
<text x="1850.2" y="1338.75" text-anchor="end" stroke="#111111" stroke-width="0.4">DNABERT-2</text>
<rect x="1858.25" y="1350.25" width="66.25" height="21" fill="#b4b4b4" stroke="#2e2e2e" stroke-width="1.2"/>
<line x1="1855.25" y1="1360.75" x2="1858.25" y2="1360.75" stroke="#1a1a1a" stroke-width="1"/>
<text x="1850.2" y="1365" text-anchor="end" stroke="#111111" stroke-width="0.4">GENA-LM</text>
<rect x="1858.25" y="1376.75" width="55" height="20.75" fill="#b4b4b4" stroke="#2e2e2e" stroke-width="1.2"/>
<line x1="1855.25" y1="1387.12" x2="1858.25" y2="1387.12" stroke="#1a1a1a" stroke-width="1"/>
<text x="1850.2" y="1395" text-anchor="end" stroke="#111111" stroke-width="0.4">Mistral-DNA</text>
<rect x="1858.25" y="1155.5" width="284.75" height="253.75" fill="none" stroke="#1a1a1a" stroke-width="1.1"/>
<line x1="2143" y1="1152" x2="2143" y2="1155.5" stroke="#1a1a1a" stroke-width="1.1"/>
<text x="1881" y="1430.8" text-anchor="middle" stroke="#111111" stroke-width="0.4">0.4</text>
<text x="1964.3" y="1430.8" text-anchor="middle" stroke="#111111" stroke-width="0.4">0.6</text>
<text x="2056" y="1430.8" text-anchor="middle" stroke="#111111" stroke-width="0.4">0.8</text>
<text x="2141.3" y="1430.8" text-anchor="middle" stroke="#111111" stroke-width="0.4">1.0</text>
<text x="2007.5" y="1456.3" text-anchor="middle" stroke="#111111" stroke-width="0.4">AUROC</text>
<rect x="1999.3" y="1360" width="15" height="13.3" fill="#5b6e80" stroke="#333" stroke-width="1"/>
<line x1="1999.3" y1="1373.3" x2="2014.3" y2="1360" stroke="#111" stroke-width="1"/>
<text x="2021" y="1372.5" stroke="#111111" stroke-width="0.4">Supervised</text>
<rect x="1982.3" y="1380" width="15" height="13.3" fill="#74b4d8" stroke="#333" stroke-width="1"/>
<rect x="1999.3" y="1380" width="15" height="13.3" fill="#e1e1e1" stroke="#333" stroke-width="1"/>
<text x="2021" y="1392.5" stroke="#111111" stroke-width="0.4">Zero-shot</text>
</g>
</svg>
</body></html>
